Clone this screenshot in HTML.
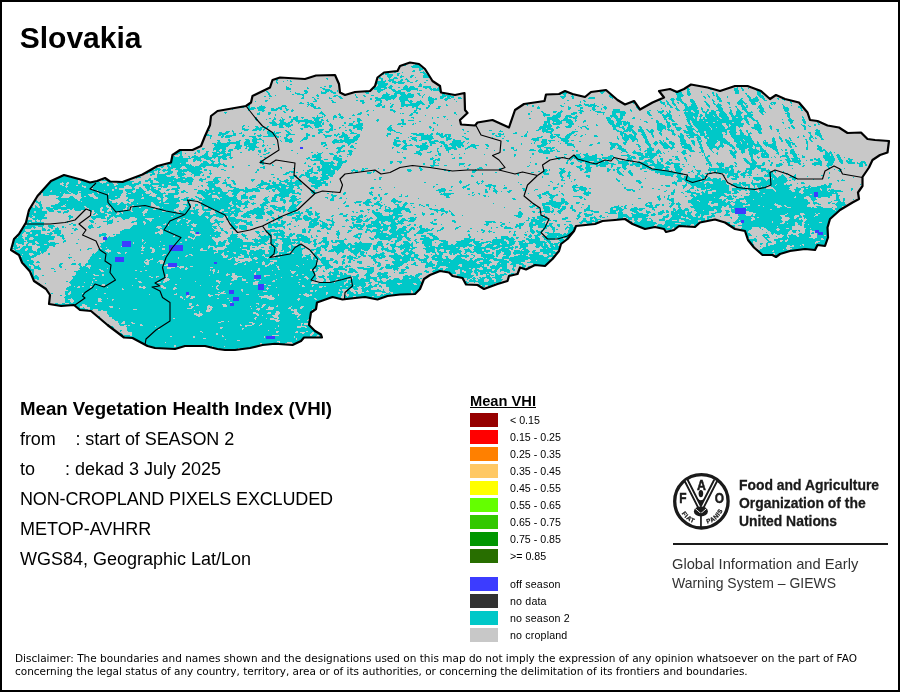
<!DOCTYPE html>
<html lang="en"><head><meta charset="utf-8"><title>Slovakia - Mean VHI</title>
<style>
html,body{margin:0;padding:0;background:#fff;}
body{width:900px;height:692px;position:relative;overflow:hidden;font-family:"Liberation Sans",Arial,sans-serif;color:#000;}
#frame{position:absolute;left:0;top:0;width:896px;height:688px;border:2px solid #000;box-sizing:content-box;}
#map{position:absolute;left:0;top:0;}
h1{position:absolute;left:19.75px;top:20.5px;margin:0;font-size:30px;line-height:34px;font-weight:bold;white-space:nowrap;}
.info{position:absolute;left:20px;font-size:18px;line-height:22px;white-space:pre;}
.lt{position:absolute;left:470px;top:392px;font-size:14.67px;line-height:18px;font-weight:bold;text-decoration:underline;white-space:nowrap;}
.sw{position:absolute;left:470px;width:28px;height:14px;}
.ll{position:absolute;left:510px;font-size:10.67px;line-height:14px;white-space:nowrap;}
.fao{position:absolute;left:739px;top:476px;font-size:15.5px;line-height:17.8px;font-weight:bold;white-space:nowrap;transform-origin:0 0;transform:scaleX(0.897);color:#1a1a1a;-webkit-text-stroke:0.3px #1a1a1a;}
.rule{position:absolute;left:672.5px;top:543.1px;width:215.5px;height:2.3px;background:#1a1a1a;}
.giews{position:absolute;left:672px;top:555.2px;font-size:14.6px;line-height:18px;white-space:nowrap;color:#333;transform-origin:0 0;transform:scaleX(1.007);}
.disc{position:absolute;left:15px;top:652px;font-size:10.5px;line-height:13px;white-space:nowrap;color:#000;font-family:"DejaVu Sans","Liberation Sans",sans-serif;}
</style></head><body>
<svg id="map" width="900" height="692" viewBox="0 0 900 692" shape-rendering="crispEdges">
<defs><clipPath id="cc"><polygon points="180,150 172.5,155 171,162.5 157.5,166 142.5,174.5 122.5,182 110,181.5 105,178 97,181 90,182.5 82.5,180 64,175 51,181 37.5,196 29,210 26,222.5 19,234 14,239 11,250 19,255 22,262.5 30,271.5 34,281 46,289 50,295 49,304 61,306 74,305 80,310 91,311 107.5,325 124,337.5 132.5,338 147.5,346 155,348 175,349 185,346 205,346 217.5,349 225,350 235,350 250,348 262.5,345 275,343.75 292.5,345 301,341 304,337.5 322,337.5 321,334.5 315,331 309,325 311,312.5 316,309 317,302.5 324,300 332.5,297 342.5,299.5 355,298 365,297 377.5,299.5 387.5,296 400,294.5 415,294 420,289 424,279 430,275 440,271 449,272.5 452.5,276 462.5,278 466,284.5 477.5,285 484,289 497.5,284 507.5,281 509,276 517.5,274 520,267.5 526,269.5 535,265 545,266 552.5,259 559,251 561,244 567.5,239 574,231 576,226 595,224 602.5,221 615,220 625,219 632.5,224 645,229 655,227 664,229 666,232 674,230 679,226 695,227 700,222.5 715,219.5 725,222.5 735,229 745,231 748,240 754,247.5 762.5,255 772.5,255 776,257 780,254 790,251 805,249 815,250 817.5,245 825,246 828,237.5 827.5,227.5 830,219 840,210 852.5,202.5 859,199 858,192.5 862.5,186 862.5,177 869,167.5 872.5,160 880,155 887.5,152.5 889,141 875,140 867.5,139 861,132.5 847.5,133 839,127.5 827.5,125.5 817.5,121 810,120 807.5,112.5 799,102.5 785,99 776,95 770,99 761,91 747.5,86 735,86 720,91 707.5,87.5 691,84.5 684,89 677,92 670,89 659,91 664,97.5 652.5,102.5 640,109.5 634,101 625,104.5 617.5,100 606,90 591,92 585,97 572.5,94 565,91 559,94 546,94.5 544.5,101 524,104 515,110 509,127.5 492.5,120 477.5,122.5 475,125.5 461,124.5 460,120 467.5,113 465,110 464.5,93 455,95 441,92.5 440,86 432.5,81 425,69 419,64 410,62.5 400,66 397.5,71 384,72.5 377.5,77.5 375,86 370,91 355,92 345,95 340,92.5 339,84 335,75 316,75.5 305,79 280,77.5 272.5,80 270,87.5 252.5,96 251,102.5 246,106 217.5,111 211,116 210,125 205,136 201,146 192.5,150"/></clipPath></defs>
<polygon points="180,150 172.5,155 171,162.5 157.5,166 142.5,174.5 122.5,182 110,181.5 105,178 97,181 90,182.5 82.5,180 64,175 51,181 37.5,196 29,210 26,222.5 19,234 14,239 11,250 19,255 22,262.5 30,271.5 34,281 46,289 50,295 49,304 61,306 74,305 80,310 91,311 107.5,325 124,337.5 132.5,338 147.5,346 155,348 175,349 185,346 205,346 217.5,349 225,350 235,350 250,348 262.5,345 275,343.75 292.5,345 301,341 304,337.5 322,337.5 321,334.5 315,331 309,325 311,312.5 316,309 317,302.5 324,300 332.5,297 342.5,299.5 355,298 365,297 377.5,299.5 387.5,296 400,294.5 415,294 420,289 424,279 430,275 440,271 449,272.5 452.5,276 462.5,278 466,284.5 477.5,285 484,289 497.5,284 507.5,281 509,276 517.5,274 520,267.5 526,269.5 535,265 545,266 552.5,259 559,251 561,244 567.5,239 574,231 576,226 595,224 602.5,221 615,220 625,219 632.5,224 645,229 655,227 664,229 666,232 674,230 679,226 695,227 700,222.5 715,219.5 725,222.5 735,229 745,231 748,240 754,247.5 762.5,255 772.5,255 776,257 780,254 790,251 805,249 815,250 817.5,245 825,246 828,237.5 827.5,227.5 830,219 840,210 852.5,202.5 859,199 858,192.5 862.5,186 862.5,177 869,167.5 872.5,160 880,155 887.5,152.5 889,141 875,140 867.5,139 861,132.5 847.5,133 839,127.5 827.5,125.5 817.5,121 810,120 807.5,112.5 799,102.5 785,99 776,95 770,99 761,91 747.5,86 735,86 720,91 707.5,87.5 691,84.5 684,89 677,92 670,89 659,91 664,97.5 652.5,102.5 640,109.5 634,101 625,104.5 617.5,100 606,90 591,92 585,97 572.5,94 565,91 559,94 546,94.5 544.5,101 524,104 515,110 509,127.5 492.5,120 477.5,122.5 475,125.5 461,124.5 460,120 467.5,113 465,110 464.5,93 455,95 441,92.5 440,86 432.5,81 425,69 419,64 410,62.5 400,66 397.5,71 384,72.5 377.5,77.5 375,86 370,91 355,92 345,95 340,92.5 339,84 335,75 316,75.5 305,79 280,77.5 272.5,80 270,87.5 252.5,96 251,102.5 246,106 217.5,111 211,116 210,125 205,136 201,146 192.5,150" fill="#c8c8c8"/>
<g clip-path="url(#cc)">
<path fill="none" stroke="#00c8c8" stroke-width="1" d="M405 63.5h1M403 64.5h3m9 0h6M403 65.5h3m7 0h6M411 66.5h9M412 67.5h9M419 68.5h4M419 69.5h4M413 70.5h2m4 0h2M384 71.5h4m6 0h3m15 0h3m8 0h1M385 72.5h3m6 0h2m6 0h1m17 0h5M385 73.5h4m8 0h3m23 0h3M380 74.5h1m1 0h2m1 0h8m4 0h2m25 0h3m1 0h2M387 75.5h6m4 0h2m2 0h1m9 0h3m9 0h7M387 76.5h5m8 0h4m6 0h3m10 0h8M309 77.5h1m69 0h2m7 0h3m3 0h3m3 0h2m8 0h2m3 0h1m7 0h7m1 0h1M308 78.5h1m17 0h2m51 0h4m6 0h1m3 0h5m8 0h1M276 79.5h2m49 0h1m53 0h2m6 0h5m7 0h2m2 0h3M276 80.5h2m9 0h1m2 0h1m90 0h2m2 0h1m2 0h6m6 0h3m4 0h2m7 0h2m8 0h2M276 81.5h1m6 0h1m6 0h2m47 0h1m35 0h11m3 0h2m1 0h4m2 0h4m5 0h3m5 0h2M276 82.5h2m97 0h10m7 0h13m5 0h3m11 0h2M277 83.5h1m97 0h13m6 0h2m2 0h6m16 0h1m16 0h1M290 84.5h2m82 0h3m1 0h10m31 0h3M329 85.5h3m42 0h1m3 0h9m3 0h2m13 0h2m12 0h3M286 86.5h1m37 0h2m3 0h3m45 0h9m3 0h4m11 0h4m2 0h4m4 0h4m1 0h8m275 0h2m24 0h2M268 87.5h1m17 0h3m18 0h1m12 0h2m7 0h2m42 0h14m1 0h4m6 0h2m3 0h5m1 0h6m8 0h8m7 0h1m268 0h4m26 0h1m3 0h1M286 88.5h5m16 0h2m13 0h3m47 0h9m3 0h3m2 0h3m11 0h15m7 0h2m2 0h3m1 0h3m1 0h3m247 0h2m19 0h4m22 0h4m3 0h2m5 0h1m6 0h1M286 89.5h5m32 0h7m44 0h11m6 0h4m6 0h17m12 0h10m247 0h3m20 0h2m22 0h4m4 0h2m11 0h4M304 90.5h3m18 0h7m5 0h1m39 0h6m9 0h4m2 0h3m5 0h5m6 0h1m1 0h3m9 0h1m1 0h7m159 0h1m2 0h2m68 0h4m4 0h1m6 0h2m45 0h5m3 0h2m12 0h4M266 91.5h2m22 0h1m13 0h4m13 0h1m3 0h4m1 0h3m4 0h1m39 0h4m12 0h8m6 0h3m29 0h3m124 0h1m32 0h6m68 0h8m6 0h3m11 0h1m33 0h4m18 0h3M267 92.5h2m26 0h1m9 0h3m13 0h6m4 0h5m29 0h4m9 0h2m6 0h1m8 0h10m36 0h3m117 0h7m32 0h4m71 0h7m5 0h3m11 0h1m10 0h2m21 0h4m18 0h4M268 93.5h2m25 0h5m4 0h3m14 0h5m7 0h3m30 0h3m17 0h2m6 0h11m3 0h3m6 0h3m22 0h3m20 0h1m80 0h9m4 0h2m1 0h5m34 0h2m73 0h6m5 0h4m21 0h2m2 0h1m18 0h4m6 0h2m10 0h4M268 94.5h2m22 0h2m3 0h7m13 0h1m37 0h1m27 0h7m4 0h3m3 0h6m1 0h7m4 0h2m4 0h1m17 0h3m3 0h2m99 0h3m7 0h2m2 0h3m10 0h1m99 0h7m4 0h4m16 0h1m5 0h1m2 0h2m28 0h1m10 0h4M269 95.5h2m4 0h1m26 0h2m12 0h3m15 0h4m17 0h1m7 0h2m6 0h3m8 0h7m2 0h6m4 0h13m5 0h2m2 0h1m18 0h9m113 0h2m6 0h1m36 0h3m65 0h7m4 0h2m18 0h1m4 0h2m1 0h2m29 0h2m9 0h5M264 96.5h2m3 0h3m31 0h1m13 0h2m14 0h3m2 0h3m15 0h1m7 0h2m16 0h15m3 0h14m8 0h1m6 0h1m10 0h6m1 0h7m106 0h6m5 0h3m35 0h3m65 0h6m20 0h2m3 0h2m6 0h3m8 0h1m19 0h3m6 0h1m2 0h5M302 97.5h2m8 0h2m15 0h1m9 0h3m14 0h2m17 0h3m3 0h15m3 0h14m9 0h1m5 0h4m8 0h4m3 0h3m1 0h3m4 0h3m83 0h2m15 0h4m7 0h2m15 0h6m15 0h3m64 0h4m23 0h2m3 0h1m7 0h3m7 0h1m20 0h3m4 0h3m2 0h4m17 0h1M269 98.5h1m31 0h3m10 0h1m2 0h2m10 0h3m8 0h3m27 0h2m3 0h20m4 0h9m20 0h6m1 0h2m3 0h3m2 0h6m7 0h4m100 0h2m8 0h2m14 0h7m17 0h1m46 0h1m11 0h3m2 0h5m24 0h1m11 0h4m20 0h2m6 0h2m2 0h5m4 0h3m12 0h2m3 0h1M314 99.5h2m54 0h2m4 0h5m4 0h6m2 0h1m5 0h9m20 0h9m7 0h4m6 0h1m203 0h3m9 0h5m1 0h6m8 0h3m19 0h1m4 0h4m19 0h2m7 0h10m4 0h2m13 0h1m3 0h2M265 100.5h3m47 0h2m14 0h2m23 0h2m2 0h4m11 0h7m4 0h2m12 0h9m1 0h2m8 0h1m7 0h6m11 0h2m120 0h2m14 0h2m74 0h2m5 0h1m4 0h3m3 0h5m8 0h4m18 0h2m5 0h3m17 0h4m6 0h10m5 0h3m17 0h1M255 101.5h1m9 0h2m46 0h4m15 0h2m26 0h4m11 0h1m4 0h2m18 0h5m3 0h5m4 0h5m7 0h5m22 0h1m123 0h1m3 0h2m45 0h3m26 0h2m4 0h2m4 0h2m6 0h3m7 0h5m9 0h2m7 0h2m4 0h3m16 0h6m6 0h8m32 0h1M300 102.5h2m5 0h2m23 0h4m26 0h3m15 0h2m19 0h4m4 0h3m4 0h7m6 0h5m146 0h1m51 0h2m26 0h5m2 0h2m3 0h2m3 0h2m2 0h3m7 0h4m10 0h2m6 0h1m13 0h3m7 0h8m6 0h4m4 0h1m11 0h5m14 0h2m7 0h1M299 103.5h5m4 0h1m1 0h3m49 0h2m14 0h3m9 0h1m10 0h4m5 0h14m5 0h4m93 0h3m35 0h1m19 0h1m9 0h1m38 0h1m15 0h1m11 0h4m2 0h2m3 0h3m3 0h1m3 0h4m6 0h4m10 0h2m5 0h2m3 0h1m9 0h2m7 0h6m1 0h3m4 0h5m4 0h1m9 0h2m1 0h3m15 0h1m7 0h1M247 104.5h3m57 0h3m1 0h3m63 0h5m10 0h2m7 0h19m2 0h3m5 0h1m15 0h1m79 0h2m51 0h2m3 0h5m1 0h5m7 0h1m60 0h2m2 0h3m3 0h3m8 0h3m4 0h5m10 0h3m5 0h2m1 0h4m8 0h1m8 0h5m2 0h1m6 0h4m4 0h1m10 0h2m1 0h1m7 0h1m16 0h4M246 105.5h4m11 0h1m20 0h4m22 0h1m1 0h4m61 0h7m2 0h1m6 0h2m8 0h18m9 0h2m16 0h2m79 0h1m4 0h2m26 0h2m13 0h7m3 0h12m39 0h1m28 0h1m3 0h2m3 0h2m8 0h3m4 0h6m10 0h3m6 0h6m19 0h3m2 0h2m11 0h3m7 0h1m13 0h1m7 0h1m8 0h1m1 0h1M248 106.5h2m9 0h6m16 0h6m20 0h1m3 0h5m60 0h4m2 0h3m5 0h3m8 0h3m2 0h2m4 0h6m10 0h2m8 0h3m91 0h2m4 0h1m22 0h3m4 0h1m8 0h3m8 0h4m1 0h3m1 0h2m5 0h2m30 0h2m27 0h1m4 0h2m4 0h1m8 0h3m1 0h8m11 0h2m6 0h5m14 0h2m4 0h4m1 0h2m10 0h4m7 0h1m13 0h2m13 0h4M241 107.5h3m3 0h3m1 0h4m2 0h9m12 0h4m3 0h1m27 0h3m2 0h2m62 0h3m5 0h2m20 0h2m2 0h2m8 0h3m9 0h2m97 0h3m28 0h3m9 0h3m9 0h3m8 0h4m29 0h2m32 0h3m3 0h1m8 0h13m3 0h1m7 0h1m7 0h5m7 0h2m5 0h1m5 0h6m10 0h5m6 0h2m12 0h5m10 0h5M248 108.5h8m1 0h8m6 0h3m2 0h6m3 0h2m27 0h7m79 0h2m14 0h5m5 0h2m8 0h4m97 0h3m28 0h3m9 0h3m9 0h3m6 0h1m2 0h3m30 0h2m22 0h1m13 0h3m7 0h13m3 0h2m15 0h5m14 0h1m4 0h4m11 0h1m1 0h5m6 0h2m11 0h6m11 0h2M232 109.5h1m15 0h6m4 0h6m7 0h7m2 0h2m4 0h3m3 0h1m97 0h3m23 0h1m2 0h2m147 0h2m10 0h1m11 0h4m5 0h1m3 0h1m7 0h7m10 0h1m7 0h1m37 0h3m5 0h13m4 0h2m4 0h2m9 0h5m7 0h1m6 0h2m3 0h5m13 0h4m20 0h5m12 0h1M248 110.5h2m8 0h7m6 0h6m9 0h2m3 0h3m73 0h2m4 0h1m16 0h5m19 0h3m144 0h1m16 0h5m7 0h1m2 0h2m18 0h7m10 0h2m17 0h2m6 0h1m4 0h2m5 0h1m7 0h3m3 0h8m2 0h6m3 0h1m4 0h2m2 0h3m2 0h7m7 0h2m5 0h3m4 0h3m12 0h5m20 0h5m12 0h2M262 111.5h2m19 0h2m6 0h2m28 0h1m44 0h2m25 0h3m18 0h2m115 0h1m9 0h2m10 0h4m3 0h3m17 0h4m11 0h6m11 0h13m6 0h1m15 0h2m9 0h6m2 0h1m2 0h2m14 0h1m2 0h3m3 0h5m3 0h3m1 0h2m3 0h5m3 0h5m6 0h2m4 0h5m4 0h3m3 0h1m7 0h6m20 0h3M224 112.5h3m32 0h1m8 0h3m13 0h2m34 0h3m37 0h2m32 0h1m18 0h5m36 0h2m86 0h2m9 0h3m2 0h4m11 0h4m2 0h3m15 0h8m7 0h14m21 0h3m8 0h5m4 0h1m1 0h2m13 0h9m2 0h4m4 0h4m2 0h7m4 0h5m4 0h3m4 0h7m3 0h7m7 0h3m2 0h1m21 0h2M225 113.5h1m31 0h3m8 0h3m48 0h5m15 0h1m18 0h4m38 0h1m1 0h2m7 0h2m3 0h2m36 0h2m72 0h2m13 0h3m11 0h4m10 0h6m3 0h2m21 0h1m8 0h4m4 0h6m21 0h3m10 0h2m5 0h3m14 0h15m6 0h2m2 0h7m3 0h7m3 0h4m3 0h6m5 0h4m10 0h2m22 0h5M257 114.5h3m8 0h2m5 0h1m46 0h3m13 0h3m12 0h1m3 0h4m6 0h2m41 0h3m43 0h1m71 0h2m13 0h7m6 0h5m10 0h4m22 0h1m5 0h1m8 0h4m4 0h5m23 0h3m11 0h2m2 0h5m14 0h13m2 0h2m3 0h12m2 0h8m3 0h3m3 0h5m6 0h6m9 0h2m23 0h3M275 115.5h1m41 0h1m6 0h2m8 0h2m3 0h2m11 0h3m13 0h1m40 0h3m13 0h1m117 0h7m3 0h8m5 0h5m5 0h1m33 0h7m3 0h5m24 0h3m10 0h10m7 0h1m5 0h13m2 0h3m2 0h8m1 0h3m2 0h8m4 0h3m1 0h6m3 0h9m34 0h3M289 116.5h2m5 0h2m19 0h1m4 0h1m1 0h1m8 0h4m3 0h3m100 0h3m98 0h1m7 0h9m4 0h7m3 0h3m32 0h8m2 0h3m40 0h9m14 0h7m1 0h4m1 0h3m3 0h9m1 0h3m1 0h9m3 0h11m2 0h8m35 0h3m12 0h1M255 117.5h2m17 0h1m6 0h1m7 0h2m2 0h5m3 0h3m8 0h3m1 0h7m10 0h4m2 0h5m67 0h3m18 0h1m4 0h2m5 0h1m102 0h13m5 0h3m1 0h8m29 0h4m1 0h1m2 0h4m2 0h3m10 0h2m28 0h4m2 0h3m14 0h7m2 0h2m3 0h1m2 0h2m1 0h13m2 0h8m3 0h4m2 0h4m2 0h3m2 0h4m35 0h2m12 0h2M256 118.5h1m12 0h2m3 0h2m6 0h1m10 0h5m4 0h1m10 0h7m13 0h1m7 0h2m6 0h2m6 0h3m53 0h1m18 0h1m96 0h2m16 0h11m6 0h4m5 0h4m29 0h5m4 0h8m9 0h3m16 0h2m11 0h2m2 0h4m15 0h7m1 0h2m3 0h1m2 0h2m2 0h13m2 0h7m3 0h15m4 0h3m35 0h2m12 0h1M255 119.5h3m8 0h1m6 0h3m4 0h1m1 0h3m6 0h7m6 0h4m6 0h5m2 0h2m4 0h1m5 0h1m23 0h4m16 0h2m22 0h3m43 0h1m99 0h12m4 0h8m4 0h1m31 0h4m5 0h6m18 0h1m23 0h3m2 0h4m13 0h11m2 0h30m3 0h11m1 0h4m4 0h3m27 0h1m5 0h4m10 0h3M256 120.5h1m15 0h2m5 0h5m7 0h2m2 0h17m2 0h5m2 0h3m2 0h2m29 0h5m14 0h3m22 0h3m4 0h6m133 0h3m2 0h8m1 0h11m3 0h2m7 0h2m21 0h6m3 0h5m35 0h2m8 0h1m4 0h3m13 0h3m1 0h6m2 0h4m1 0h13m1 0h24m3 0h3m5 0h5m30 0h6m8 0h3M272 121.5h3m5 0h4m6 0h3m3 0h18m1 0h7m5 0h2m24 0h2m2 0h3m17 0h1m24 0h2m15 0h2m123 0h6m3 0h9m4 0h7m2 0h1m7 0h3m22 0h6m3 0h9m1 0h1m16 0h3m9 0h3m7 0h2m4 0h3m12 0h3m2 0h49m5 0h3m7 0h2m31 0h4m10 0h3m11 0h1M269 122.5h7m4 0h6m2 0h4m6 0h2m5 0h17m1 0h1m20 0h2m7 0h1m4 0h2m42 0h2m29 0h2m109 0h6m3 0h1m2 0h6m4 0h7m10 0h1m24 0h6m3 0h5m1 0h7m16 0h2m8 0h3m7 0h4m18 0h2m2 0h14m2 0h5m2 0h17m2 0h7m5 0h3m8 0h2m23 0h2m6 0h3m10 0h3m11 0h1M270 123.5h7m2 0h11m8 0h1m6 0h3m2 0h11m1 0h2m6 0h1m13 0h2m3 0h4m5 0h5m35 0h8m7 0h1m1 0h1m17 0h3m108 0h3m1 0h2m2 0h10m6 0h6m35 0h5m2 0h6m1 0h7m27 0h5m5 0h3m2 0h5m11 0h3m2 0h29m4 0h18m3 0h2m8 0h2m24 0h1m6 0h2m12 0h2m12 0h1M272 124.5h18m1 0h2m9 0h5m7 0h7m1 0h2m5 0h3m17 0h4m3 0h7m34 0h4m1 0h4m6 0h2m23 0h1m105 0h4m1 0h3m2 0h7m9 0h5m22 0h1m13 0h5m1 0h6m1 0h4m1 0h2m27 0h6m4 0h3m2 0h6m11 0h2m2 0h29m4 0h3m1 0h14m4 0h2m4 0h6m41 0h1m12 0h2m2 0h2M243 125.5h2m27 0h5m2 0h4m2 0h8m8 0h9m4 0h8m7 0h4m9 0h2m4 0h15m27 0h2m45 0h1m13 0h1m91 0h9m16 0h4m15 0h1m8 0h2m14 0h8m4 0h2m2 0h5m24 0h8m2 0h4m2 0h3m9 0h2m3 0h2m2 0h29m4 0h2m2 0h12m11 0h7m9 0h1m20 0h2m9 0h3m3 0h1m5 0h2M242 126.5h2m4 0h1m6 0h3m9 0h2m10 0h4m3 0h5m13 0h7m4 0h7m8 0h3m20 0h9m27 0h2m10 0h2m26 0h2m109 0h12m5 0h2m6 0h7m6 0h1m3 0h4m26 0h8m2 0h2m4 0h6m5 0h2m16 0h9m1 0h4m4 0h1m10 0h7m2 0h14m1 0h14m4 0h1m1 0h6m2 0h5m11 0h7m8 0h3m19 0h3m9 0h3m3 0h2M242 127.5h1m13 0h3m1 0h4m2 0h2m11 0h5m4 0h1m15 0h4m2 0h2m3 0h4m12 0h2m6 0h2m4 0h1m7 0h10m25 0h4m37 0h3m107 0h12m5 0h4m6 0h5m9 0h2m3 0h2m26 0h3m3 0h5m3 0h6m6 0h3m15 0h9m1 0h3m5 0h6m5 0h6m4 0h14m1 0h5m1 0h8m3 0h8m3 0h1m11 0h10m9 0h2m16 0h2m2 0h3m9 0h2M242 128.5h3m10 0h7m2 0h4m32 0h3m9 0h1m17 0h3m6 0h1m13 0h2m2 0h6m24 0h5m38 0h1m2 0h1m105 0h7m1 0h6m3 0h2m23 0h1m4 0h3m24 0h3m6 0h3m2 0h5m8 0h2m15 0h9m2 0h1m7 0h6m5 0h7m3 0h14m1 0h13m2 0h9m16 0h10m8 0h2m13 0h1m3 0h1m3 0h2m9 0h2M207 129.5h2m33 0h7m4 0h9m1 0h2m25 0h1m10 0h2m15 0h6m5 0h4m1 0h2m13 0h2m6 0h5m25 0h6m40 0h1m28 0h2m74 0h3m1 0h12m21 0h1m11 0h2m24 0h4m6 0h2m1 0h7m5 0h5m3 0h2m3 0h2m4 0h6m2 0h1m1 0h3m1 0h1m4 0h5m6 0h8m3 0h13m1 0h24m4 0h1m14 0h7m9 0h1m4 0h3m25 0h2m10 0h2M208 130.5h2m22 0h1m11 0h4m4 0h5m2 0h2m2 0h1m4 0h2m15 0h2m4 0h1m26 0h5m6 0h4m12 0h2m2 0h3m9 0h1m26 0h7m37 0h2m29 0h1m25 0h3m8 0h1m35 0h3m3 0h6m3 0h3m62 0h3m5 0h10m4 0h6m3 0h2m1 0h4m4 0h4m6 0h6m3 0h3m3 0h3m2 0h5m2 0h1m2 0h29m3 0h6m3 0h3m4 0h2m9 0h4m16 0h2m36 0h5M226 131.5h4m2 0h2m33 0h4m3 0h1m11 0h3m30 0h3m3 0h5m20 0h2m38 0h1m3 0h2m71 0h2m30 0h4m24 0h1m14 0h11m19 0h6m39 0h5m1 0h5m1 0h2m1 0h3m3 0h6m4 0h6m6 0h2m9 0h3m10 0h9m3 0h8m2 0h21m2 0h7m4 0h2m4 0h2m10 0h3m16 0h2m37 0h4M219 132.5h3m3 0h4m4 0h1m7 0h1m25 0h5m1 0h2m1 0h5m6 0h3m28 0h5m3 0h3m13 0h2m7 0h3m42 0h4m37 0h1m77 0h2m10 0h1m15 0h1m2 0h6m19 0h4m45 0h4m8 0h4m5 0h4m4 0h4m6 0h2m11 0h2m10 0h10m3 0h1m1 0h5m2 0h16m3 0h2m2 0h8m3 0h3m4 0h1m2 0h1m7 0h4m46 0h3m4 0h5M219 133.5h9m5 0h3m3 0h3m12 0h2m11 0h12m9 0h3m15 0h2m10 0h2m18 0h1m3 0h3m5 0h7m30 0h4m9 0h2m9 0h6m2 0h5m7 0h2m3 0h4m1 0h2m21 0h2m26 0h3m3 0h3m2 0h1m9 0h4m9 0h1m23 0h2m17 0h5m46 0h6m7 0h4m5 0h3m6 0h2m6 0h3m10 0h3m5 0h2m4 0h9m5 0h5m1 0h16m4 0h1m3 0h6m4 0h4m4 0h4m7 0h3m17 0h1m29 0h2m4 0h6M205 134.5h4m9 0h8m7 0h3m7 0h1m10 0h1m5 0h1m7 0h8m10 0h9m11 0h4m13 0h2m9 0h2m1 0h3m2 0h5m10 0h3m27 0h4m22 0h11m3 0h1m2 0h3m3 0h7m2 0h6m41 0h2m4 0h6m21 0h2m24 0h2m1 0h6m7 0h5m4 0h1m8 0h1m34 0h3m1 0h3m2 0h3m2 0h3m4 0h5m5 0h2m7 0h2m10 0h4m4 0h3m6 0h9m2 0h5m2 0h16m2 0h2m3 0h6m4 0h4m4 0h2m60 0h1m4 0h6M205 135.5h7m6 0h3m1 0h2m2 0h10m6 0h3m12 0h5m6 0h9m9 0h3m17 0h4m2 0h3m9 0h8m2 0h4m3 0h7m8 0h4m26 0h2m28 0h16m7 0h4m1 0h3m1 0h3m44 0h2m2 0h2m23 0h3m23 0h3m3 0h4m6 0h5m3 0h2m5 0h2m11 0h3m24 0h2m1 0h9m1 0h2m6 0h4m6 0h2m7 0h1m12 0h1m3 0h1m1 0h4m2 0h13m1 0h5m1 0h17m8 0h15m2 0h2m53 0h1m6 0h2m5 0h5M210 136.5h2m9 0h3m1 0h7m10 0h2m5 0h7m2 0h3m2 0h11m1 0h4m1 0h1m5 0h2m18 0h2m4 0h3m10 0h6m5 0h1m2 0h9m6 0h6m27 0h1m22 0h2m9 0h12m7 0h7m1 0h3m11 0h2m32 0h5m3 0h1m16 0h2m1 0h3m14 0h2m7 0h6m1 0h2m6 0h5m10 0h2m12 0h4m19 0h1m4 0h1m1 0h12m7 0h4m5 0h2m24 0h6m3 0h1m2 0h4m3 0h3m4 0h19m8 0h20m28 0h1m18 0h1m4 0h2m5 0h3m6 0h3M210 137.5h1m10 0h2m2 0h5m22 0h4m21 0h2m5 0h3m17 0h4m17 0h2m12 0h4m1 0h6m3 0h6m37 0h3m9 0h1m3 0h5m4 0h12m8 0h3m2 0h4m14 0h2m26 0h1m44 0h5m8 0h5m3 0h3m4 0h5m47 0h1m4 0h14m7 0h4m6 0h1m12 0h1m12 0h5m4 0h6m2 0h5m3 0h3m2 0h14m9 0h19m22 0h1m5 0h2m8 0h1m7 0h2m10 0h4m2 0h1m4 0h2M210 138.5h1m42 0h4m2 0h2m23 0h4m2 0h2m11 0h5m36 0h5m4 0h5m38 0h3m12 0h5m5 0h13m12 0h6m13 0h4m33 0h2m28 0h7m12 0h2m7 0h9m48 0h2m3 0h7m1 0h7m7 0h3m19 0h2m12 0h4m5 0h1m7 0h4m4 0h3m1 0h16m8 0h19m20 0h3m4 0h3m7 0h2m18 0h2m2 0h1m1 0h2m4 0h2M228 139.5h2m15 0h4m3 0h10m23 0h7m10 0h5m27 0h3m3 0h2m2 0h14m36 0h2m16 0h5m4 0h11m14 0h5m2 0h2m11 0h3m62 0h8m3 0h5m14 0h7m50 0h1m4 0h6m2 0h7m7 0h3m18 0h3m11 0h5m12 0h4m6 0h19m8 0h9m1 0h8m20 0h3m5 0h2m3 0h2m3 0h1m14 0h2m2 0h2m10 0h3M217 140.5h3m8 0h3m8 0h2m5 0h4m2 0h5m5 0h2m16 0h1m4 0h8m8 0h2m30 0h24m37 0h6m3 0h3m3 0h2m3 0h3m2 0h3m6 0h3m3 0h4m8 0h2m5 0h8m45 0h3m24 0h6m3 0h5m1 0h7m6 0h8m2 0h3m50 0h4m4 0h3m2 0h1m7 0h3m11 0h2m2 0h1m16 0h6m5 0h3m3 0h2m2 0h1m5 0h10m1 0h9m7 0h10m1 0h8m11 0h2m6 0h3m6 0h2m2 0h4m1 0h2m14 0h1m3 0h2M218 141.5h2m9 0h1m6 0h4m5 0h5m2 0h5m6 0h1m17 0h1m3 0h8m7 0h1m31 0h7m1 0h15m39 0h7m1 0h4m10 0h1m12 0h10m1 0h4m8 0h9m2 0h2m42 0h2m26 0h1m5 0h6m2 0h2m7 0h1m4 0h6m10 0h2m44 0h2m5 0h2m3 0h1m7 0h4m6 0h2m3 0h2m1 0h1m5 0h3m8 0h6m5 0h4m3 0h4m5 0h11m2 0h8m6 0h6m1 0h13m3 0h1m5 0h1m1 0h1m6 0h4m5 0h2m3 0h4m16 0h2m3 0h2m74 0h1M217 142.5h4m6 0h13m4 0h6m3 0h6m4 0h1m25 0h3m29 0h5m6 0h11m2 0h9m39 0h4m6 0h3m19 0h2m2 0h6m4 0h6m7 0h12m4 0h1m65 0h1m6 0h6m3 0h1m14 0h3m30 0h2m9 0h3m11 0h4m18 0h4m5 0h4m1 0h4m1 0h2m3 0h5m7 0h5m6 0h3m3 0h3m5 0h11m3 0h10m6 0h5m1 0h12m3 0h2m4 0h5m5 0h3m10 0h7m13 0h2M212 143.5h4m1 0h23m4 0h13m64 0h5m7 0h2m12 0h4m4 0h2m36 0h4m7 0h3m15 0h5m3 0h6m5 0h4m5 0h13m4 0h1m53 0h1m9 0h1m2 0h1m7 0h6m1 0h1m10 0h1m4 0h7m25 0h3m10 0h8m5 0h3m20 0h4m3 0h5m2 0h7m2 0h6m5 0h7m5 0h3m4 0h2m5 0h10m4 0h3m1 0h6m7 0h4m1 0h5m1 0h7m2 0h2m4 0h5m4 0h4m11 0h4m1 0h3m11 0h2M214 144.5h16m6 0h4m4 0h12m7 0h1m9 0h2m46 0h2m2 0h2m21 0h2m43 0h8m4 0h2m3 0h2m10 0h4m4 0h2m11 0h4m2 0h14m8 0h4m10 0h3m33 0h1m19 0h6m20 0h7m16 0h3m17 0h9m5 0h2m10 0h3m8 0h4m3 0h3m4 0h7m3 0h4m6 0h9m3 0h2m4 0h3m5 0h8m5 0h3m4 0h5m4 0h11m1 0h12m4 0h12m12 0h3m1 0h3m12 0h1M214 145.5h15m7 0h6m2 0h3m1 0h8m6 0h3m2 0h1m56 0h3m15 0h3m3 0h1m2 0h2m41 0h6m4 0h9m2 0h4m1 0h8m2 0h2m9 0h1m2 0h4m3 0h13m6 0h9m7 0h3m48 0h9m21 0h7m15 0h3m19 0h5m1 0h4m17 0h2m8 0h3m4 0h1m6 0h7m3 0h2m7 0h1m2 0h7m3 0h1m5 0h2m5 0h8m4 0h5m5 0h4m3 0h17m1 0h7m4 0h11m12 0h3m4 0h1m11 0h1m9 0h2M215 146.5h13m7 0h7m4 0h11m5 0h2m59 0h2m16 0h4m5 0h4m42 0h3m4 0h4m9 0h13m11 0h2m2 0h4m4 0h4m1 0h4m1 0h2m4 0h8m11 0h2m48 0h7m29 0h2m36 0h4m3 0h4m16 0h3m8 0h2m12 0h7m2 0h2m8 0h9m9 0h2m6 0h9m1 0h6m6 0h4m2 0h17m2 0h7m4 0h1m1 0h9m12 0h3m3 0h2m10 0h1m9 0h4M214 147.5h12m9 0h6m5 0h1m2 0h10m78 0h6m7 0h4m38 0h2m8 0h4m11 0h11m17 0h11m2 0h3m6 0h3m3 0h3m35 0h3m24 0h3m3 0h7m1 0h3m19 0h1m35 0h5m3 0h4m17 0h1m9 0h3m11 0h12m7 0h10m7 0h4m6 0h11m2 0h1m9 0h3m2 0h15m3 0h1m4 0h2m8 0h7m13 0h2m14 0h2m10 0h4M202 148.5h3m8 0h13m8 0h7m4 0h2m2 0h6m10 0h1m3 0h2m55 0h2m8 0h6m12 0h2m36 0h1m8 0h6m13 0h8m9 0h2m6 0h12m8 0h3m7 0h2m9 0h2m23 0h3m26 0h1m5 0h8m56 0h3m4 0h7m16 0h1m6 0h7m10 0h4m2 0h3m11 0h8m8 0h3m6 0h4m3 0h3m13 0h3m4 0h8m2 0h4m2 0h1m4 0h3m9 0h5m29 0h2m9 0h5M181 149.5h5m4 0h4m8 0h2m9 0h7m2 0h4m3 0h4m4 0h2m9 0h7m9 0h2m72 0h3m62 0h4m13 0h7m10 0h1m8 0h5m3 0h3m8 0h1m37 0h2m8 0h1m2 0h1m13 0h4m5 0h3m4 0h2m2 0h2m4 0h1m53 0h2m7 0h7m13 0h2m6 0h7m4 0h1m12 0h1m16 0h4m9 0h2m7 0h2m5 0h2m15 0h1m4 0h6m3 0h9m3 0h4m9 0h5m3 0h1m3 0h2m4 0h3m12 0h2m9 0h5m1 0h2M178 150.5h6m13 0h3m13 0h1m2 0h3m3 0h3m3 0h5m15 0h2m2 0h2m4 0h3m3 0h3m24 0h2m45 0h3m2 0h2m3 0h4m67 0h4m14 0h1m8 0h3m45 0h1m8 0h2m9 0h3m12 0h7m2 0h5m1 0h5m1 0h5m2 0h1m14 0h2m2 0h2m43 0h5m8 0h1m5 0h1m4 0h9m3 0h3m23 0h3m3 0h5m7 0h3m7 0h1m17 0h3m3 0h1m5 0h4m3 0h11m1 0h6m9 0h3m4 0h1m2 0h2m3 0h4m25 0h7M177 151.5h5m15 0h3m6 0h3m7 0h4m1 0h5m2 0h3m27 0h3m3 0h2m71 0h8m3 0h5m44 0h1m18 0h4m10 0h2m5 0h2m9 0h1m89 0h15m4 0h3m16 0h2m44 0h5m6 0h3m8 0h2m1 0h5m4 0h5m7 0h1m8 0h1m4 0h4m4 0h5m6 0h3m8 0h1m17 0h3m1 0h3m4 0h4m4 0h17m10 0h2m12 0h5m25 0h3m2 0h2m3 0h1M175 152.5h7m13 0h1m2 0h2m6 0h2m4 0h5m2 0h6m5 0h1m9 0h2m17 0h2m7 0h2m41 0h2m4 0h1m4 0h1m13 0h4m9 0h3m45 0h3m2 0h1m13 0h5m6 0h4m7 0h1m9 0h1m90 0h11m71 0h1m4 0h2m4 0h9m6 0h5m4 0h5m2 0h1m17 0h5m13 0h2m1 0h2m9 0h1m3 0h1m12 0h7m4 0h4m4 0h10m3 0h1m1 0h3m10 0h2m6 0h3m2 0h5m30 0h3m1 0h3m2 0h1M174 153.5h8m3 0h1m8 0h2m9 0h3m5 0h13m1 0h4m35 0h3m28 0h1m20 0h4m7 0h4m4 0h1m11 0h3m62 0h8m16 0h3m23 0h1m33 0h1m33 0h2m9 0h7m30 0h1m5 0h2m45 0h10m2 0h14m1 0h2m2 0h1m17 0h5m17 0h1m11 0h2m12 0h6m6 0h1m6 0h9m3 0h7m8 0h3m6 0h3m2 0h6m29 0h7M174 154.5h4m2 0h2m22 0h4m5 0h7m3 0h8m27 0h1m4 0h3m48 0h2m1 0h4m9 0h4m13 0h5m66 0h4m16 0h3m10 0h2m6 0h1m24 0h1m29 0h2m16 0h2m30 0h3m9 0h4m3 0h5m7 0h2m4 0h2m24 0h2m8 0h6m2 0h12m26 0h2m19 0h1m12 0h1m13 0h4m14 0h4m1 0h2m5 0h8m9 0h1m6 0h2m5 0h5m1 0h1m26 0h5m1 0h2m4 0h2M171 155.5h2m7 0h2m12 0h2m6 0h6m4 0h6m4 0h9m81 0h9m13 0h3m2 0h2m9 0h1m69 0h1m14 0h2m2 0h2m73 0h2m59 0h5m4 0h5m3 0h5m5 0h1m7 0h3m8 0h10m7 0h6m1 0h12m2 0h1m29 0h2m11 0h1m1 0h1m3 0h2m22 0h4m14 0h3m8 0h4m1 0h3m13 0h6m5 0h4m5 0h1m20 0h7m1 0h2m3 0h4M171 156.5h4m4 0h4m5 0h2m2 0h6m2 0h9m3 0h15m3 0h1m29 0h2m50 0h9m13 0h3m2 0h3m5 0h1m166 0h1m40 0h2m7 0h1m7 0h9m4 0h12m11 0h6m13 0h3m1 0h4m6 0h7m1 0h6m4 0h2m11 0h2m1 0h3m12 0h1m14 0h1m1 0h3m23 0h3m14 0h3m4 0h1m3 0h8m5 0h1m5 0h9m4 0h4m5 0h3m18 0h11m3 0h3M171 157.5h12m6 0h1m1 0h25m2 0h8m3 0h4m31 0h2m42 0h2m2 0h10m11 0h6m64 0h3m26 0h1m21 0h1m4 0h3m68 0h1m15 0h2m8 0h4m4 0h2m6 0h9m3 0h13m5 0h10m1 0h2m13 0h8m3 0h15m21 0h3m6 0h2m19 0h3m25 0h3m15 0h2m4 0h3m2 0h7m2 0h1m3 0h1m4 0h1m5 0h3m5 0h4m4 0h3m18 0h11m3 0h4m3 0h1M171 158.5h20m3 0h7m3 0h8m2 0h1m3 0h3m1 0h5m3 0h2m74 0h4m6 0h5m12 0h9m62 0h2m24 0h4m4 0h2m12 0h3m4 0h3m84 0h2m10 0h3m10 0h2m1 0h27m1 0h10m3 0h2m10 0h5m1 0h3m3 0h5m6 0h3m7 0h3m13 0h3m5 0h2m19 0h3m27 0h1m7 0h3m5 0h2m5 0h1m28 0h3m1 0h9m14 0h2m2 0h2m4 0h11m3 0h3m7 0h2M171 159.5h17m5 0h8m5 0h5m7 0h2m3 0h4m80 0h1m2 0h2m2 0h7m3 0h4m5 0h9m88 0h3m2 0h5m118 0h2m9 0h3m4 0h21m2 0h3m6 0h3m5 0h2m9 0h5m7 0h4m5 0h4m5 0h1m2 0h3m6 0h3m3 0h4m6 0h2m19 0h3m35 0h3m4 0h3m31 0h5m2 0h6m1 0h1m10 0h3m1 0h6m5 0h10m3 0h4m6 0h5M170 160.5h18m5 0h3m1 0h5m8 0h3m5 0h2m40 0h3m48 0h12m13 0h6m3 0h2m86 0h3m1 0h3m127 0h2m1 0h1m6 0h20m2 0h4m14 0h2m3 0h1m3 0h7m12 0h8m4 0h1m3 0h2m6 0h3m6 0h2m6 0h1m19 0h3m35 0h4m3 0h4m13 0h2m10 0h2m4 0h5m1 0h9m5 0h1m3 0h3m3 0h5m4 0h10m4 0h4m3 0h2m1 0h3M170 161.5h18m5 0h2m5 0h1m2 0h4m4 0h4m3 0h2m40 0h4m56 0h4m7 0h2m5 0h9m43 0h3m4 0h5m31 0h2m132 0h1m10 0h6m1 0h4m5 0h10m1 0h3m10 0h11m1 0h1m7 0h2m4 0h10m3 0h2m2 0h2m4 0h2m17 0h1m20 0h3m35 0h4m3 0h4m13 0h1m17 0h14m17 0h4m6 0h6m5 0h4m3 0h6m9 0h4M172 162.5h14m17 0h5m4 0h2m5 0h1m40 0h4m41 0h1m14 0h14m4 0h8m44 0h3m6 0h3m31 0h3m94 0h1m35 0h2m3 0h3m6 0h2m3 0h5m3 0h16m9 0h10m4 0h2m3 0h10m3 0h4m3 0h4m5 0h4m1 0h2m35 0h3m6 0h1m3 0h1m12 0h2m10 0h4m2 0h5m6 0h2m6 0h2m10 0h1m3 0h3m4 0h6m14 0h8m6 0h6m6 0h3m4 0h8m2 0h1m2 0h6M167 163.5h13m1 0h5m15 0h8m2 0h3m4 0h3m2 0h1m36 0h4m40 0h2m8 0h2m4 0h15m2 0h6m47 0h2m8 0h1m22 0h2m8 0h2m3 0h1m20 0h6m70 0h2m29 0h2m2 0h4m11 0h13m2 0h14m4 0h11m3 0h16m4 0h3m2 0h4m4 0h15m26 0h5m5 0h8m11 0h2m10 0h10m5 0h3m6 0h2m6 0h3m6 0h2m8 0h3m2 0h1m8 0h10m5 0h6m8 0h2m5 0h7m2 0h6m1 0h2M167 164.5h22m1 0h1m9 0h25m37 0h2m8 0h1m40 0h3m5 0h8m1 0h3m4 0h5m81 0h2m8 0h2m24 0h5m5 0h2m14 0h2m48 0h2m34 0h2m13 0h12m1 0h9m3 0h5m6 0h7m1 0h18m2 0h13m4 0h4m3 0h6m2 0h2m4 0h1m17 0h1m2 0h3m5 0h7m12 0h1m12 0h7m6 0h3m5 0h2m4 0h7m5 0h2m9 0h2m11 0h10m5 0h6m26 0h4m2 0h2M158 165.5h4m5 0h2m2 0h21m7 0h21m3 0h4m21 0h2m22 0h2m34 0h1m13 0h12m3 0h5m88 0h9m5 0h3m12 0h1m8 0h2m16 0h1m42 0h1m50 0h2m4 0h4m6 0h10m5 0h2m9 0h5m3 0h3m2 0h5m2 0h22m10 0h5m30 0h3m6 0h6m6 0h3m2 0h1m14 0h14m6 0h2m4 0h6m6 0h5m10 0h2m9 0h2m4 0h2m4 0h6m27 0h4m2 0h2M159 166.5h5m3 0h3m1 0h11m3 0h9m1 0h11m7 0h6m5 0h3m5 0h2m29 0h2m43 0h3m6 0h3m2 0h19m90 0h3m30 0h1m62 0h2m47 0h6m4 0h4m6 0h2m2 0h6m5 0h2m9 0h4m10 0h4m2 0h7m5 0h10m2 0h3m5 0h6m3 0h2m8 0h2m16 0h1m7 0h5m5 0h5m1 0h2m13 0h11m15 0h4m22 0h2m23 0h2m30 0h4M161 167.5h2m5 0h13m5 0h15m2 0h2m12 0h1m14 0h2m26 0h5m15 0h2m30 0h1m4 0h3m2 0h19m78 0h2m58 0h3m95 0h4m4 0h7m19 0h1m5 0h4m1 0h4m16 0h9m4 0h15m4 0h6m14 0h1m14 0h1m9 0h3m3 0h8m17 0h6m1 0h4m67 0h2M151 168.5h2m3 0h4m8 0h5m3 0h4m7 0h15m61 0h2m16 0h1m11 0h1m17 0h2m5 0h2m1 0h10m1 0h8m22 0h2m1 0h3m10 0h1m40 0h3m45 0h2m8 0h6m16 0h3m57 0h3m1 0h2m14 0h4m2 0h6m16 0h2m8 0h3m3 0h4m13 0h6m1 0h5m1 0h10m2 0h3m7 0h7m27 0h15m1 0h4m2 0h2m13 0h9m3 0h8m26 0h1m35 0h1m15 0h1M150 169.5h3m2 0h6m2 0h3m1 0h4m4 0h7m1 0h19m2 0h3m14 0h3m33 0h2m50 0h4m5 0h13m2 0h6m14 0h2m7 0h3m18 0h2m22 0h4m9 0h3m20 0h3m21 0h1m7 0h1m2 0h1m65 0h3m2 0h1m10 0h4m16 0h4m2 0h5m16 0h4m2 0h2m1 0h3m5 0h2m14 0h2m7 0h13m3 0h4m6 0h8m12 0h1m12 0h21m2 0h3m12 0h8m7 0h5m2 0h1m65 0h1m4 0h3M150 170.5h7m1 0h2m2 0h9m7 0h22m4 0h3m2 0h2m13 0h2m31 0h2m44 0h1m3 0h6m4 0h18m2 0h1m13 0h7m3 0h3m9 0h2m8 0h2m22 0h5m8 0h2m22 0h2m3 0h2m21 0h5m66 0h5m1 0h1m11 0h4m15 0h2m4 0h5m16 0h3m3 0h2m2 0h2m10 0h2m20 0h18m2 0h1m3 0h7m10 0h1m3 0h5m7 0h8m1 0h12m1 0h4m4 0h1m6 0h2m2 0h3m9 0h9m4 0h2m62 0h3M146 171.5h8m4 0h1m4 0h2m3 0h5m5 0h9m2 0h13m8 0h1m45 0h1m32 0h5m13 0h6m6 0h1m2 0h13m17 0h1m2 0h3m3 0h2m10 0h2m33 0h3m37 0h2m22 0h4m62 0h2m3 0h4m13 0h6m3 0h1m15 0h6m16 0h2m8 0h3m3 0h1m4 0h3m13 0h3m8 0h18m3 0h5m10 0h2m4 0h4m9 0h1m3 0h2m1 0h17m3 0h4m4 0h2m1 0h4m9 0h2m3 0h7m1 0h2m7 0h1m55 0h2M144 172.5h10m4 0h2m7 0h6m4 0h5m1 0h1m7 0h12m7 0h1m44 0h2m29 0h4m1 0h4m1 0h2m7 0h4m2 0h7m4 0h13m16 0h1m3 0h3m9 0h5m1 0h1m98 0h3m20 0h2m34 0h3m9 0h3m13 0h6m3 0h3m13 0h4m29 0h4m7 0h4m23 0h19m1 0h6m7 0h2m3 0h1m4 0h2m9 0h2m4 0h19m3 0h3m3 0h9m15 0h6m2 0h1m6 0h2m45 0h1M146 173.5h2m4 0h3m3 0h1m6 0h7m5 0h8m7 0h9m8 0h3m73 0h4m16 0h7m2 0h4m4 0h13m32 0h4m111 0h1m35 0h1m24 0h6m10 0h4m5 0h2m48 0h4m7 0h4m24 0h1m2 0h23m14 0h3m5 0h3m2 0h2m4 0h1m2 0h2m4 0h2m1 0h10m3 0h5m2 0h4m16 0h5m13 0h2m41 0h1M64 174.5h1m85 0h5m2 0h13m7 0h9m5 0h1m2 0h6m3 0h1m6 0h1m60 0h3m9 0h4m14 0h3m1 0h5m11 0h5m2 0h6m148 0h1m34 0h2m25 0h5m11 0h2m6 0h2m49 0h4m7 0h3m27 0h14m3 0h6m14 0h3m2 0h1m25 0h10m2 0h5m4 0h2m6 0h1m7 0h1m1 0h7m8 0h1m3 0h1m8 0h1M62 175.5h7m81 0h2m5 0h9m12 0h6m10 0h6m2 0h2m89 0h4m3 0h10m12 0h11m138 0h2m45 0h1m41 0h2m5 0h4m15 0h4m32 0h2m7 0h2m32 0h8m4 0h4m14 0h3m2 0h4m2 0h1m16 0h2m2 0h7m1 0h3m3 0h5m1 0h5m12 0h11m6 0h3m10 0h2m25 0h2M60 176.5h12m65 0h3m17 0h10m4 0h4m3 0h4m12 0h1m12 0h3m79 0h8m2 0h3m4 0h4m3 0h3m6 0h6m2 0h3m138 0h3m68 0h1m17 0h3m4 0h3m16 0h4m81 0h2m3 0h5m3 0h5m6 0h3m3 0h7m19 0h3m3 0h6m4 0h2m19 0h12m3 0h6m5 0h6m11 0h1M58 177.5h12m2 0h4m59 0h6m16 0h17m6 0h5m2 0h5m15 0h3m5 0h6m6 0h3m43 0h2m15 0h4m5 0h2m6 0h11m2 0h9m50 0h3m160 0h1m18 0h3m5 0h1m18 0h2m87 0h5m2 0h6m5 0h5m2 0h3m3 0h2m17 0h2m6 0h4m4 0h2m4 0h1m3 0h10m9 0h5m1 0h8m3 0h7m32 0h2m23 0h1M55 178.5h24m23 0h2m3 0h1m22 0h1m5 0h1m12 0h2m3 0h22m2 0h15m7 0h2m3 0h1m8 0h4m10 0h1m48 0h2m11 0h4m15 0h9m3 0h8m50 0h2m181 0h1m6 0h1m46 0h1m28 0h1m32 0h23m1 0h2m3 0h4m2 0h4m2 0h2m10 0h6m16 0h11m7 0h2m1 0h13m5 0h5m31 0h1M53 179.5h26m1 0h3m17 0h4m3 0h2m18 0h1m20 0h3m3 0h29m2 0h9m5 0h7m7 0h5m7 0h1m25 0h4m22 0h2m7 0h2m3 0h1m17 0h8m3 0h8m46 0h2m3 0h2m180 0h2m11 0h2m40 0h2m60 0h24m3 0h16m11 0h5m17 0h11m3 0h5m1 0h13m5 0h4m17 0h1m28 0h1M51 180.5h27m2 0h7m10 0h2m3 0h9m14 0h2m2 0h1m15 0h8m3 0h17m1 0h19m6 0h4m10 0h6m5 0h2m5 0h3m17 0h3m7 0h2m6 0h2m8 0h2m3 0h5m1 0h2m4 0h5m7 0h16m136 0h1m21 0h1m78 0h4m9 0h1m42 0h3m16 0h4m37 0h5m2 0h37m1 0h3m27 0h1m3 0h3m2 0h5m1 0h21m1 0h2m3 0h1m42 0h2m2 0h4M50 181.5h28m3 0h11m2 0h5m8 0h6m9 0h12m5 0h2m4 0h3m2 0h3m5 0h35m8 0h2m5 0h12m5 0h1m6 0h3m17 0h1m8 0h3m5 0h2m2 0h1m6 0h8m2 0h2m3 0h6m8 0h12m2 0h3m4 0h1m128 0h3m15 0h1m3 0h3m66 0h2m19 0h1m46 0h2m16 0h5m33 0h1m2 0h5m3 0h3m1 0h11m2 0h3m7 0h14m26 0h1m8 0h26m51 0h1M49 182.5h13m1 0h4m2 0h9m3 0h19m6 0h6m6 0h14m6 0h3m9 0h3m6 0h10m2 0h6m4 0h5m2 0h4m14 0h7m1 0h5m4 0h4m6 0h2m26 0h6m5 0h4m3 0h2m4 0h16m10 0h15m4 0h1m93 0h2m33 0h3m14 0h2m4 0h1m35 0h1m33 0h1m85 0h4m30 0h5m9 0h18m3 0h2m4 0h13m13 0h2m1 0h4m5 0h2m7 0h26m15 0h3M48 183.5h12m4 0h2m3 0h9m2 0h22m1 0h10m4 0h15m2 0h7m10 0h26m12 0h3m16 0h10m4 0h5m6 0h3m24 0h10m2 0h4m3 0h3m5 0h15m10 0h16m132 0h1m16 0h3m1 0h1m76 0h1m5 0h1m74 0h2m31 0h5m9 0h1m1 0h16m2 0h4m3 0h13m7 0h4m2 0h7m5 0h33m13 0h1m3 0h4m24 0h3M47 184.5h13m3 0h3m2 0h39m2 0h5m4 0h21m4 0h6m1 0h12m2 0h14m10 0h4m16 0h7m11 0h5m3 0h2m22 0h12m3 0h12m2 0h6m2 0h7m13 0h7m3 0h3m108 0h2m30 0h2m8 0h1m9 0h4m28 0h2m35 0h2m17 0h1m45 0h1m52 0h2m8 0h2m3 0h37m5 0h9m1 0h8m2 0h24m1 0h7m2 0h1m3 0h2m32 0h2m3 0h3m28 0h1M46 185.5h16m2 0h2m1 0h9m2 0h4m1 0h24m2 0h5m2 0h10m3 0h7m7 0h9m7 0h3m2 0h4m3 0h8m22 0h2m4 0h8m11 0h5m26 0h6m5 0h19m2 0h10m12 0h11m3 0h3m138 0h3m16 0h11m8 0h1m43 0h2m11 0h2m10 0h5m83 0h2m2 0h5m6 0h1m5 0h5m4 0h14m1 0h23m2 0h10m2 0h7m3 0h2m2 0h10m3 0h5m1 0h16m17 0h1m11 0h6m1 0h3M45 186.5h20m3 0h14m4 0h6m2 0h30m7 0h4m10 0h8m5 0h10m9 0h2m19 0h1m3 0h1m5 0h8m10 0h1m2 0h3m24 0h1m2 0h2m6 0h12m2 0h13m3 0h2m12 0h9m113 0h2m16 0h2m10 0h4m19 0h5m2 0h3m65 0h2m9 0h4m4 0h3m58 0h2m23 0h4m13 0h3m6 0h2m2 0h9m1 0h23m6 0h7m3 0h1m2 0h2m4 0h1m2 0h4m1 0h5m4 0h19m13 0h2m3 0h3m6 0h14M44 187.5h22m1 0h17m2 0h29m2 0h7m8 0h2m5 0h2m4 0h5m1 0h5m5 0h1m1 0h4m10 0h3m29 0h11m10 0h6m9 0h2m10 0h4m5 0h14m1 0h5m3 0h5m4 0h2m14 0h4m53 0h3m5 0h2m13 0h1m38 0h1m17 0h1m10 0h4m23 0h2m3 0h1m9 0h3m46 0h5m14 0h14m38 0h2m15 0h2m40 0h2m6 0h3m3 0h32m7 0h7m1 0h1m3 0h2m4 0h1m3 0h8m7 0h16m7 0h2m3 0h9m1 0h20M43 188.5h48m2 0h22m2 0h2m13 0h3m4 0h3m4 0h4m1 0h3m4 0h3m11 0h8m29 0h3m2 0h7m13 0h5m6 0h3m4 0h6m2 0h4m1 0h7m3 0h11m2 0h5m4 0h3m15 0h3m52 0h4m67 0h4m18 0h1m3 0h3m19 0h1m3 0h2m8 0h4m15 0h3m28 0h3m17 0h2m4 0h8m2 0h2m33 0h2m26 0h2m29 0h1m6 0h4m7 0h9m1 0h18m3 0h14m2 0h9m2 0h7m8 0h16m6 0h5m3 0h2m2 0h12m1 0h6m24 0h2M43 189.5h48m2 0h19m2 0h5m6 0h10m1 0h7m4 0h9m2 0h3m6 0h3m1 0h7m16 0h3m8 0h2m2 0h3m2 0h8m11 0h11m1 0h14m7 0h3m3 0h4m1 0h16m7 0h2m79 0h1m56 0h8m21 0h3m15 0h2m2 0h1m4 0h2m27 0h2m10 0h3m15 0h2m18 0h3m3 0h8m39 0h7m6 0h1m18 0h2m14 0h1m14 0h1m7 0h1m3 0h4m1 0h1m3 0h19m3 0h15m1 0h8m3 0h14m2 0h14m5 0h7m3 0h16m2 0h5m2 0h1m1 0h3m17 0h2m8 0h1M42 190.5h9m1 0h15m1 0h29m1 0h6m1 0h7m2 0h9m2 0h8m3 0h8m3 0h2m2 0h8m7 0h3m6 0h4m4 0h2m13 0h5m2 0h17m6 0h32m12 0h3m3 0h17m6 0h1m8 0h5m121 0h10m3 0h3m33 0h2m6 0h4m12 0h3m11 0h2m9 0h1m38 0h6m2 0h5m41 0h4m1 0h3m31 0h1m6 0h2m12 0h3m5 0h1m1 0h2m7 0h6m4 0h13m3 0h5m2 0h2m4 0h2m2 0h6m4 0h15m2 0h15m4 0h5m3 0h18m1 0h5m1 0h13m10 0h1M41 191.5h9m2 0h16m1 0h9m3 0h15m2 0h25m3 0h6m4 0h10m6 0h8m15 0h3m3 0h5m12 0h7m1 0h17m5 0h1m2 0h9m3 0h10m2 0h5m9 0h1m3 0h2m4 0h16m16 0h4m56 0h1m67 0h6m40 0h3m5 0h5m3 0h1m5 0h4m35 0h3m10 0h1m14 0h3m7 0h2m2 0h1m44 0h2m29 0h2m7 0h2m10 0h6m11 0h1m2 0h3m8 0h15m3 0h4m12 0h7m3 0h15m1 0h16m3 0h4m4 0h25m2 0h13M41 192.5h19m1 0h8m2 0h7m1 0h18m2 0h24m4 0h6m2 0h10m8 0h8m3 0h1m10 0h4m2 0h3m2 0h2m9 0h16m2 0h3m2 0h8m5 0h6m6 0h3m32 0h15m2 0h2m12 0h6m15 0h1m11 0h2m23 0h4m66 0h2m3 0h1m27 0h2m11 0h3m7 0h2m11 0h2m34 0h5m35 0h7m80 0h4m6 0h2m4 0h9m5 0h3m1 0h3m4 0h19m3 0h5m11 0h8m1 0h40m5 0h30m1 0h2M43 193.5h21m1 0h6m2 0h5m3 0h11m2 0h4m1 0h9m1 0h13m4 0h2m3 0h15m4 0h1m4 0h11m2 0h11m18 0h12m2 0h7m2 0h7m5 0h6m7 0h1m33 0h11m2 0h9m11 0h3m12 0h2m14 0h3m23 0h3m13 0h3m53 0h1m1 0h11m18 0h1m5 0h2m16 0h1m31 0h1m13 0h8m11 0h2m20 0h8m80 0h3m9 0h1m7 0h9m2 0h6m4 0h12m3 0h4m1 0h5m9 0h2m1 0h14m2 0h36m2 0h35M39 194.5h2m2 0h20m12 0h2m4 0h7m6 0h14m1 0h12m6 0h15m1 0h7m7 0h6m5 0h10m23 0h7m2 0h16m6 0h5m6 0h3m29 0h14m10 0h2m30 0h2m10 0h2m25 0h3m5 0h2m4 0h3m14 0h1m38 0h11m17 0h2m4 0h1m4 0h1m59 0h2m1 0h4m2 0h4m4 0h2m4 0h2m20 0h5m82 0h3m17 0h2m3 0h4m2 0h23m25 0h60m2 0h20m4 0h2M43 195.5h6m7 0h7m18 0h8m6 0h26m5 0h16m1 0h6m7 0h7m2 0h9m28 0h10m5 0h11m6 0h3m4 0h5m6 0h4m18 0h15m3 0h3m36 0h6m35 0h1m5 0h2m21 0h1m5 0h1m36 0h5m23 0h2m9 0h3m51 0h4m5 0h1m2 0h9m5 0h1m22 0h3m70 0h1m8 0h2m20 0h4m3 0h29m3 0h2m2 0h1m7 0h1m7 0h83m4 0h4M59 196.5h3m8 0h3m8 0h3m2 0h4m6 0h19m2 0h3m6 0h26m4 0h7m2 0h9m21 0h2m6 0h9m6 0h11m4 0h3m5 0h7m2 0h6m12 0h1m5 0h3m2 0h10m2 0h6m35 0h4m43 0h1m19 0h3m3 0h3m38 0h3m35 0h2m2 0h1m49 0h3m9 0h5m18 0h9m75 0h3m4 0h1m3 0h1m16 0h2m4 0h4m1 0h25m3 0h8m1 0h4m7 0h17m1 0h33m1 0h10m3 0h21m6 0h3M58 197.5h3m8 0h5m8 0h11m5 0h22m8 0h14m2 0h13m3 0h4m3 0h7m4 0h2m6 0h3m7 0h3m5 0h8m7 0h1m2 0h15m4 0h7m1 0h7m9 0h3m4 0h5m4 0h4m5 0h6m29 0h3m4 0h2m6 0h2m32 0h3m3 0h2m64 0h4m89 0h3m7 0h5m25 0h4m74 0h3m4 0h1m3 0h1m24 0h21m1 0h5m7 0h5m3 0h1m8 0h50m2 0h8m6 0h6m2 0h3m7 0h2m6 0h3M56 198.5h19m6 0h13m4 0h20m10 0h13m3 0h13m4 0h2m5 0h11m5 0h4m3 0h2m5 0h4m3 0h12m3 0h17m4 0h7m1 0h3m12 0h3m5 0h4m4 0h3m8 0h6m2 0h2m26 0h1m3 0h3m5 0h3m4 0h1m26 0h4m3 0h2m11 0h2m23 0h1m93 0h3m24 0h2m9 0h3m8 0h3m16 0h2m2 0h1m53 0h3m17 0h3m6 0h2m2 0h3m18 0h27m7 0h8m5 0h65m7 0h5m20 0h3m4 0h2M58 199.5h19m3 0h29m2 0h4m12 0h2m5 0h24m3 0h2m4 0h12m2 0h7m1 0h6m4 0h3m1 0h11m1 0h4m1 0h18m3 0h1m8 0h4m9 0h5m4 0h4m4 0h5m5 0h9m31 0h4m33 0h4m3 0h2m4 0h2m10 0h4m117 0h3m35 0h2m8 0h4m19 0h2m72 0h3m6 0h7m17 0h31m2 0h2m2 0h5m3 0h8m1 0h8m1 0h53m4 0h6m19 0h4m3 0h2m8 0h1M36 200.5h1m22 0h8m1 0h10m2 0h30m16 0h3m5 0h29m3 0h14m3 0h5m1 0h5m5 0h15m1 0h26m6 0h1m16 0h4m3 0h5m4 0h6m3 0h8m33 0h4m32 0h4m10 0h1m10 0h7m151 0h4m8 0h4m94 0h1m9 0h5m14 0h9m2 0h23m1 0h3m10 0h4m6 0h62m4 0h3m19 0h6m3 0h2M35 201.5h3m2 0h1m19 0h21m1 0h30m16 0h2m3 0h27m1 0h2m2 0h15m8 0h2m12 0h29m1 0h10m3 0h4m16 0h4m2 0h7m5 0h3m3 0h6m2 0h5m43 0h1m10 0h6m3 0h6m6 0h3m11 0h11m147 0h7m5 0h6m104 0h3m14 0h11m1 0h9m3 0h13m3 0h2m1 0h2m2 0h5m6 0h62m5 0h1m17 0h1m6 0h3m2 0h1M33 202.5h1m2 0h5m18 0h53m4 0h1m4 0h2m8 0h20m2 0h6m2 0h16m10 0h2m12 0h29m2 0h4m1 0h5m2 0h6m3 0h1m9 0h7m13 0h3m6 0h2m3 0h4m43 0h2m8 0h7m2 0h9m4 0h3m2 0h1m11 0h3m2 0h3m4 0h2m139 0h22m8 0h4m68 0h4m20 0h2m4 0h1m9 0h21m2 0h15m1 0h4m2 0h9m5 0h63m3 0h4m11 0h3m6 0h8M32 203.5h2m4 0h3m17 0h60m2 0h4m3 0h2m2 0h6m1 0h13m3 0h10m5 0h7m11 0h3m11 0h28m3 0h16m3 0h5m6 0h6m16 0h1m7 0h2m4 0h2m43 0h2m10 0h1m7 0h6m5 0h6m14 0h1m9 0h4m2 0h4m79 0h1m36 0h1m11 0h22m1 0h4m7 0h3m67 0h2m1 0h3m17 0h1m1 0h4m1 0h4m11 0h17m3 0h3m4 0h12m5 0h10m1 0h29m1 0h34m3 0h6m9 0h2m2 0h3m1 0h9M32 204.5h1m6 0h3m13 0h10m1 0h51m2 0h32m4 0h24m4 0h8m4 0h3m3 0h29m3 0h15m4 0h2m6 0h6m26 0h4m1 0h2m60 0h2m4 0h4m5 0h7m3 0h1m10 0h4m4 0h4m12 0h2m5 0h3m104 0h2m7 0h20m3 0h3m14 0h2m48 0h1m12 0h2m3 0h2m4 0h4m2 0h2m7 0h3m2 0h5m11 0h16m10 0h13m4 0h13m2 0h24m4 0h30m6 0h1m3 0h3m14 0h11M35 205.5h1m3 0h3m9 0h12m2 0h41m2 0h18m1 0h5m2 0h17m5 0h23m7 0h5m4 0h3m3 0h31m2 0h2m2 0h3m4 0h2m13 0h7m3 0h5m16 0h7m48 0h3m10 0h2m5 0h4m1 0h3m4 0h5m14 0h2m4 0h3m5 0h1m7 0h1m1 0h2m3 0h3m6 0h1m96 0h4m6 0h3m6 0h10m10 0h2m15 0h2m28 0h1m6 0h2m18 0h8m2 0h4m3 0h2m6 0h3m5 0h2m13 0h17m8 0h9m2 0h3m2 0h9m7 0h8m2 0h15m6 0h3m2 0h21m29 0h9M35 206.5h2m3 0h2m9 0h10m5 0h18m2 0h20m3 0h17m2 0h2m3 0h16m10 0h20m8 0h4m4 0h1m6 0h29m2 0h3m3 0h2m4 0h2m14 0h3m3 0h1m2 0h7m5 0h3m5 0h7m48 0h4m23 0h1m7 0h2m3 0h2m10 0h3m2 0h3m18 0h2m3 0h1m100 0h6m8 0h6m3 0h9m1 0h4m5 0h2m15 0h2m24 0h5m2 0h2m1 0h2m20 0h7m2 0h2m12 0h3m6 0h2m10 0h21m2 0h9m2 0h2m3 0h14m2 0h18m1 0h13m5 0h3m2 0h20m9 0h5m16 0h5m4 0h2M30 207.5h3m2 0h3m2 0h3m3 0h4m3 0h32m2 0h14m2 0h4m4 0h15m1 0h2m4 0h6m2 0h14m5 0h2m1 0h15m7 0h5m3 0h2m7 0h2m4 0h20m2 0h7m7 0h4m9 0h2m2 0h3m8 0h13m4 0h7m14 0h2m68 0h1m4 0h1m2 0h2m7 0h8m8 0h2m89 0h1m25 0h3m4 0h2m4 0h7m4 0h6m2 0h4m4 0h3m8 0h1m5 0h3m21 0h10m3 0h2m8 0h3m12 0h8m13 0h1m7 0h3m10 0h31m7 0h48m3 0h7m4 0h20m1 0h2m3 0h6m9 0h1m4 0h10M29 208.5h14m3 0h27m1 0h11m4 0h11m3 0h6m2 0h14m2 0h2m3 0h22m5 0h17m9 0h5m3 0h2m7 0h2m4 0h20m2 0h10m3 0h2m9 0h10m2 0h2m5 0h3m2 0h7m4 0h8m12 0h3m26 0h1m40 0h2m4 0h1m3 0h2m3 0h15m20 0h3m9 0h3m75 0h2m15 0h3m4 0h7m2 0h1m5 0h2m1 0h5m4 0h3m13 0h4m20 0h3m3 0h6m2 0h3m4 0h7m1 0h6m7 0h2m19 0h2m4 0h2m4 0h3m6 0h27m10 0h1m2 0h7m1 0h3m2 0h85m3 0h10M30 209.5h12m5 0h6m1 0h4m3 0h6m3 0h2m2 0h11m4 0h11m2 0h6m3 0h12m4 0h2m3 0h13m3 0h5m3 0h18m10 0h6m4 0h1m1 0h3m3 0h10m3 0h6m3 0h8m3 0h5m13 0h12m9 0h12m2 0h9m9 0h3m58 0h3m6 0h2m7 0h6m2 0h17m20 0h8m2 0h4m100 0h6m3 0h1m6 0h5m7 0h3m9 0h6m20 0h3m3 0h8m6 0h13m9 0h3m18 0h3m2 0h4m2 0h5m6 0h19m2 0h5m10 0h39m2 0h61m2 0h8M28 210.5h14m6 0h6m13 0h2m6 0h6m8 0h3m2 0h6m2 0h5m5 0h11m1 0h4m4 0h12m4 0h26m5 0h2m2 0h15m5 0h8m5 0h4m4 0h7m3 0h7m9 0h14m6 0h2m4 0h5m2 0h3m1 0h10m9 0h3m51 0h3m5 0h1m3 0h2m2 0h2m6 0h18m3 0h5m24 0h11m4 0h1m94 0h6m2 0h2m4 0h5m9 0h4m8 0h9m17 0h8m1 0h4m7 0h7m2 0h3m4 0h1m7 0h1m7 0h2m2 0h2m5 0h3m1 0h12m5 0h9m1 0h10m3 0h5m3 0h4m2 0h104m1 0h6M28 211.5h6m2 0h11m2 0h5m3 0h4m3 0h5m21 0h2m2 0h6m4 0h3m2 0h2m1 0h19m2 0h10m4 0h15m4 0h10m3 0h19m7 0h1m9 0h4m3 0h21m4 0h17m3 0h6m6 0h2m2 0h2m3 0h8m2 0h2m5 0h7m3 0h1m36 0h2m6 0h4m8 0h3m10 0h16m5 0h5m25 0h2m3 0h7m1 0h2m68 0h2m11 0h3m4 0h15m3 0h5m12 0h2m8 0h2m5 0h8m11 0h6m3 0h3m10 0h6m8 0h4m10 0h4m2 0h3m2 0h3m1 0h10m3 0h1m2 0h1m4 0h13m8 0h5m4 0h4m1 0h12m6 0h92M30 212.5h4m2 0h11m11 0h3m2 0h5m27 0h6m3 0h13m2 0h2m2 0h19m5 0h30m3 0h11m2 0h6m5 0h6m5 0h5m1 0h3m4 0h2m1 0h3m1 0h4m7 0h19m1 0h8m9 0h1m10 0h6m1 0h2m4 0h5m3 0h2m36 0h1m2 0h2m10 0h1m3 0h8m9 0h1m3 0h8m8 0h2m11 0h1m14 0h1m7 0h3m3 0h1m66 0h4m11 0h2m3 0h4m3 0h5m1 0h2m5 0h3m18 0h3m12 0h5m6 0h3m2 0h6m2 0h5m11 0h5m7 0h5m7 0h7m1 0h3m2 0h14m2 0h5m5 0h12m6 0h6m5 0h3m3 0h12m9 0h87M27 213.5h20m16 0h1m30 0h2m1 0h8m3 0h9m3 0h2m1 0h20m2 0h33m1 0h12m3 0h4m5 0h7m6 0h22m6 0h21m2 0h7m15 0h14m5 0h5m2 0h5m20 0h3m30 0h9m11 0h9m20 0h3m6 0h3m8 0h2m2 0h1m4 0h2m65 0h5m36 0h2m18 0h2m3 0h3m5 0h1m15 0h9m1 0h5m8 0h2m3 0h7m4 0h2m4 0h2m3 0h5m8 0h14m2 0h4m5 0h13m2 0h5m10 0h2m10 0h7m11 0h31m1 0h12m4 0h11m1 0h2m2 0h19M27 214.5h18m48 0h2m3 0h9m4 0h5m3 0h24m1 0h30m1 0h23m4 0h8m3 0h19m2 0h4m5 0h6m3 0h2m2 0h9m3 0h4m14 0h8m5 0h2m7 0h5m2 0h4m20 0h4m3 0h2m13 0h1m12 0h8m7 0h1m2 0h6m16 0h2m6 0h3m5 0h4m7 0h2m8 0h3m64 0h5m21 0h1m9 0h1m23 0h2m4 0h9m25 0h9m5 0h16m3 0h5m2 0h4m5 0h2m2 0h7m1 0h7m1 0h4m4 0h5m1 0h8m3 0h2m11 0h5m8 0h7m7 0h1m2 0h30m2 0h13m5 0h11m2 0h20M27 215.5h5m1 0h12m24 0h2m25 0h11m2 0h34m2 0h54m2 0h30m3 0h4m3 0h10m6 0h5m8 0h2m6 0h1m8 0h5m4 0h5m3 0h3m2 0h2m4 0h3m14 0h2m9 0h4m12 0h4m2 0h2m8 0h8m6 0h14m20 0h1m17 0h1m10 0h3m7 0h1m51 0h8m18 0h5m32 0h3m5 0h7m8 0h2m16 0h10m4 0h17m2 0h4m11 0h3m3 0h20m3 0h5m1 0h3m7 0h4m9 0h6m8 0h8m5 0h2m2 0h25m5 0h10m4 0h2m2 0h12m3 0h19M27 216.5h6m2 0h9m24 0h5m18 0h14m4 0h4m1 0h45m1 0h11m2 0h32m3 0h5m3 0h8m4 0h2m5 0h2m4 0h9m6 0h7m15 0h3m15 0h4m3 0h5m9 0h3m11 0h2m10 0h4m4 0h5m2 0h5m1 0h2m10 0h17m2 0h7m114 0h6m15 0h6m2 0h2m30 0h4m4 0h4m5 0h1m4 0h3m5 0h1m10 0h11m3 0h16m15 0h6m3 0h9m2 0h10m3 0h2m3 0h2m4 0h8m5 0h1m18 0h42m4 0h9m5 0h3m1 0h11m1 0h20M30 217.5h2m3 0h12m22 0h4m18 0h14m2 0h4m4 0h2m4 0h9m5 0h71m3 0h3m7 0h4m5 0h7m8 0h3m1 0h4m4 0h8m8 0h3m4 0h5m9 0h4m1 0h3m3 0h8m6 0h3m32 0h1m3 0h7m7 0h2m5 0h16m2 0h4m11 0h4m1 0h2m101 0h3m7 0h1m3 0h3m2 0h6m2 0h3m17 0h3m10 0h2m10 0h6m4 0h1m1 0h3m13 0h5m3 0h20m17 0h5m3 0h10m4 0h1m2 0h10m2 0h3m4 0h5m18 0h2m6 0h13m3 0h3m2 0h23m7 0h5m3 0h5m2 0h30M26 218.5h1m5 0h15m22 0h2m21 0h4m5 0h5m1 0h3m12 0h7m8 0h8m9 0h29m2 0h22m1 0h3m16 0h9m20 0h7m9 0h3m2 0h5m10 0h10m1 0h9m2 0h5m13 0h1m18 0h3m2 0h4m7 0h1m1 0h4m4 0h16m1 0h4m4 0h3m3 0h8m112 0h2m3 0h2m2 0h11m14 0h6m8 0h3m4 0h3m4 0h3m1 0h3m20 0h6m5 0h4m2 0h4m4 0h6m1 0h2m11 0h3m5 0h16m3 0h16m2 0h2m22 0h1m6 0h14m3 0h27m8 0h4m2 0h3m5 0h1m1 0h27M26 219.5h2m5 0h4m1 0h4m27 0h1m23 0h2m12 0h2m3 0h1m10 0h2m12 0h10m5 0h26m3 0h5m2 0h22m5 0h2m9 0h16m25 0h2m4 0h1m3 0h3m15 0h7m2 0h14m8 0h4m2 0h1m13 0h2m3 0h11m4 0h4m6 0h22m3 0h5m4 0h6m18 0h3m91 0h1m2 0h6m2 0h9m14 0h4m11 0h1m5 0h3m4 0h2m3 0h6m15 0h2m3 0h2m5 0h4m2 0h4m4 0h5m4 0h1m7 0h6m4 0h10m2 0h8m2 0h14m2 0h4m2 0h4m20 0h14m4 0h26m8 0h10m2 0h1m5 0h25M26 220.5h6m3 0h1m4 0h1m48 0h4m14 0h1m1 0h4m23 0h13m3 0h25m3 0h8m3 0h19m4 0h4m11 0h18m19 0h2m5 0h1m4 0h2m1 0h2m12 0h3m7 0h4m2 0h7m1 0h2m6 0h6m12 0h4m3 0h3m2 0h6m2 0h4m6 0h20m3 0h1m1 0h8m1 0h6m19 0h2m16 0h3m71 0h3m2 0h15m2 0h3m2 0h4m25 0h5m3 0h4m1 0h3m12 0h1m23 0h3m4 0h6m4 0h2m6 0h6m1 0h6m5 0h2m5 0h14m3 0h4m3 0h2m3 0h5m18 0h3m1 0h11m2 0h29m6 0h15m3 0h26M25 221.5h7m3 0h2m3 0h1m26 0h1m22 0h4m9 0h10m4 0h2m13 0h11m2 0h5m1 0h26m2 0h9m2 0h20m5 0h9m6 0h10m1 0h6m3 0h2m4 0h2m15 0h1m7 0h5m5 0h1m4 0h1m13 0h7m3 0h3m8 0h3m12 0h1m9 0h6m1 0h5m3 0h8m2 0h4m3 0h7m2 0h7m4 0h6m18 0h1m19 0h4m29 0h10m36 0h12m12 0h2m9 0h5m10 0h17m11 0h5m12 0h1m4 0h1m3 0h3m2 0h13m12 0h14m6 0h13m3 0h5m2 0h1m26 0h37m1 0h10m2 0h18m2 0h26M25 222.5h4m2 0h13m23 0h1m23 0h3m13 0h6m18 0h3m3 0h6m3 0h40m3 0h22m3 0h6m1 0h2m8 0h3m1 0h4m5 0h8m24 0h2m3 0h5m23 0h3m1 0h6m3 0h3m7 0h3m17 0h2m2 0h5m10 0h8m2 0h2m8 0h5m2 0h5m27 0h3m21 0h2m30 0h6m1 0h3m4 0h2m7 0h1m14 0h1m5 0h3m2 0h7m2 0h1m34 0h4m3 0h6m3 0h3m4 0h1m26 0h3m2 0h22m9 0h34m2 0h5m19 0h5m3 0h6m2 0h31m1 0h9m3 0h10m2 0h5m2 0h15m3 0h9M24 223.5h20m27 0h2m22 0h1m11 0h5m25 0h7m2 0h19m1 0h21m1 0h5m1 0h21m2 0h2m12 0h7m8 0h6m17 0h2m2 0h5m3 0h4m4 0h2m18 0h10m3 0h5m5 0h2m18 0h2m9 0h2m6 0h9m1 0h3m7 0h13m27 0h6m49 0h3m13 0h3m14 0h5m5 0h4m2 0h10m4 0h4m27 0h2m5 0h5m37 0h28m8 0h10m6 0h18m26 0h5m4 0h3m5 0h38m4 0h3m1 0h7m3 0h4m3 0h23M24 224.5h20m25 0h2m2 0h3m15 0h1m15 0h1m29 0h7m1 0h18m3 0h1m2 0h7m1 0h4m1 0h9m6 0h16m5 0h2m11 0h4m11 0h7m15 0h16m3 0h4m18 0h10m1 0h1m1 0h6m1 0h5m19 0h8m2 0h2m3 0h4m1 0h8m2 0h3m4 0h8m3 0h1m7 0h2m3 0h2m17 0h4m4 0h1m42 0h5m12 0h4m11 0h2m1 0h5m5 0h17m3 0h3m5 0h3m4 0h2m3 0h3m16 0h3m40 0h24m3 0h4m2 0h27m3 0h5m27 0h3m13 0h53m3 0h4m2 0h4m1 0h19m1 0h1M23 225.5h2m2 0h17m4 0h6m19 0h3m13 0h4m40 0h35m1 0h18m2 0h3m4 0h16m6 0h1m13 0h4m3 0h7m4 0h3m15 0h15m4 0h1m10 0h1m10 0h8m3 0h8m2 0h4m19 0h12m1 0h15m2 0h13m11 0h3m4 0h2m4 0h2m64 0h2m12 0h2m14 0h7m6 0h7m2 0h14m5 0h3m9 0h4m7 0h1m8 0h1m42 0h22m3 0h29m1 0h3m4 0h5m30 0h6m3 0h57m5 0h2m2 0h26M23 226.5h12m3 0h5m5 0h7m7 0h2m24 0h5m6 0h2m31 0h25m4 0h32m3 0h21m2 0h1m12 0h6m1 0h8m21 0h4m2 0h11m9 0h2m12 0h7m5 0h7m4 0h1m10 0h3m4 0h3m1 0h11m2 0h23m1 0h7m6 0h3m13 0h3m37 0h2m40 0h2m2 0h2m8 0h6m8 0h4m5 0h11m1 0h3m5 0h2m7 0h1m2 0h3m62 0h3m2 0h14m3 0h11m2 0h7m2 0h5m3 0h3m42 0h3m7 0h35m1 0h14m12 0h25M23 227.5h9m1 0h3m6 0h1m6 0h4m4 0h1m4 0h2m1 0h1m22 0h6m3 0h3m31 0h25m6 0h50m1 0h3m4 0h1m10 0h7m1 0h8m21 0h4m3 0h2m6 0h2m23 0h6m8 0h6m2 0h2m18 0h5m1 0h2m2 0h3m4 0h5m4 0h12m3 0h6m5 0h5m4 0h3m3 0h1m1 0h3m20 0h2m12 0h3m32 0h1m4 0h2m6 0h7m4 0h2m2 0h2m9 0h3m5 0h9m4 0h4m11 0h10m61 0h1m3 0h9m2 0h3m2 0h10m3 0h3m1 0h3m2 0h5m3 0h5m50 0h10m7 0h2m3 0h28m12 0h25M22 228.5h9m3 0h1m7 0h3m6 0h2m2 0h4m13 0h2m1 0h2m12 0h2m39 0h28m2 0h31m2 0h20m1 0h3m3 0h3m7 0h7m2 0h8m37 0h1m4 0h1m14 0h1m16 0h3m2 0h5m20 0h2m4 0h5m5 0h1m9 0h5m1 0h5m3 0h6m2 0h7m4 0h5m5 0h5m1 0h2m4 0h2m7 0h3m11 0h3m12 0h2m19 0h1m12 0h9m6 0h2m9 0h2m11 0h4m5 0h3m10 0h2m2 0h8m65 0h5m13 0h12m3 0h1m65 0h11m8 0h1m5 0h11m2 0h7m3 0h3m14 0h4m1 0h18M21 229.5h4m17 0h4m2 0h2m5 0h4m15 0h4m46 0h36m2 0h29m2 0h21m7 0h2m10 0h3m5 0h6m23 0h5m4 0h1m9 0h2m11 0h4m3 0h2m16 0h4m27 0h5m3 0h4m3 0h7m3 0h5m2 0h6m2 0h8m3 0h3m1 0h2m5 0h10m1 0h2m7 0h3m12 0h1m25 0h2m47 0h3m11 0h1m7 0h3m1 0h2m7 0h1m3 0h8m65 0h6m2 0h1m9 0h11m3 0h3m60 0h14m11 0h1m4 0h9m4 0h12m13 0h24M20 230.5h5m6 0h10m1 0h4m1 0h3m3 0h8m13 0h2m46 0h38m3 0h6m1 0h45m6 0h3m42 0h17m19 0h4m3 0h2m6 0h3m18 0h1m9 0h4m14 0h5m1 0h9m1 0h5m2 0h7m1 0h10m2 0h2m8 0h13m5 0h4m27 0h1m12 0h4m4 0h1m40 0h4m2 0h2m3 0h3m9 0h2m13 0h8m69 0h1m28 0h2m64 0h9m19 0h9m2 0h11m2 0h5m1 0h2m5 0h5m2 0h17M20 231.5h6m4 0h11m11 0h9m59 0h38m5 0h27m4 0h20m2 0h2m6 0h3m5 0h1m22 0h4m3 0h2m2 0h12m1 0h5m18 0h4m2 0h2m7 0h4m15 0h3m9 0h3m14 0h2m3 0h13m6 0h15m2 0h4m8 0h10m9 0h1m29 0h3m7 0h1m5 0h2m3 0h4m17 0h2m3 0h2m11 0h1m2 0h5m1 0h7m10 0h2m13 0h8m97 0h2m69 0h4m22 0h19m3 0h4m3 0h1m5 0h5m5 0h14M19 232.5h5m2 0h4m2 0h9m9 0h2m2 0h7m59 0h35m8 0h27m5 0h26m4 0h3m4 0h1m23 0h4m6 0h5m6 0h1m2 0h5m17 0h4m2 0h2m17 0h1m9 0h3m7 0h2m16 0h2m4 0h1m4 0h4m1 0h2m7 0h19m8 0h7m58 0h2m5 0h1m3 0h2m14 0h1m4 0h1m10 0h1m5 0h4m2 0h5m3 0h4m4 0h1m14 0h7m170 0h3m18 0h1m4 0h17m5 0h3m9 0h5m2 0h2m2 0h13M19 233.5h4m3 0h4m2 0h9m6 0h6m1 0h7m10 0h2m29 0h4m14 0h35m2 0h2m4 0h29m3 0h26m5 0h2m4 0h1m9 0h1m14 0h2m9 0h3m3 0h11m5 0h2m1 0h2m32 0h2m7 0h4m18 0h4m14 0h11m5 0h15m9 0h7m4 0h6m81 0h1m17 0h2m4 0h3m6 0h13m4 0h2m1 0h7m171 0h5m21 0h3m1 0h13m11 0h3m2 0h6m1 0h3m3 0h13M18 234.5h4m6 0h8m2 0h7m4 0h3m5 0h3m2 0h1m36 0h8m6 0h2m1 0h44m1 0h33m7 0h19m11 0h7m3 0h4m14 0h1m8 0h4m1 0h11m5 0h6m2 0h5m34 0h4m16 0h6m14 0h13m2 0h10m3 0h3m7 0h2m13 0h4m35 0h2m43 0h3m8 0h3m3 0h1m6 0h4m7 0h14m1 0h10m172 0h6m12 0h5m4 0h1m4 0h3m2 0h5m4 0h2m5 0h12m7 0h13M18 235.5h4m5 0h8m3 0h13m6 0h7m35 0h7m10 0h58m1 0h20m5 0h10m1 0h4m1 0h4m10 0h7m5 0h5m12 0h2m3 0h2m2 0h4m2 0h11m4 0h4m3 0h8m7 0h1m4 0h1m20 0h2m15 0h4m2 0h1m14 0h22m1 0h4m2 0h3m7 0h2m5 0h5m4 0h5m33 0h2m43 0h3m9 0h2m2 0h3m2 0h6m7 0h24m174 0h7m10 0h7m15 0h3m1 0h8m3 0h12m6 0h7m2 0h4M16 236.5h7m4 0h28m5 0h4m35 0h2m3 0h2m3 0h1m4 0h59m2 0h13m2 0h5m1 0h25m9 0h8m5 0h3m12 0h14m4 0h2m3 0h4m1 0h6m4 0h11m4 0h1m4 0h2m20 0h1m14 0h5m2 0h1m13 0h12m2 0h9m1 0h9m14 0h5m6 0h5m32 0h2m30 0h7m20 0h4m3 0h3m4 0h2m2 0h11m1 0h10m178 0h3m7 0h1m6 0h2m2 0h2m7 0h1m6 0h4m2 0h8m2 0h12m6 0h13M15 237.5h2m1 0h4m3 0h5m3 0h22m7 0h2m40 0h1m3 0h80m4 0h2m1 0h17m3 0h3m10 0h9m8 0h1m14 0h12m4 0h2m4 0h2m3 0h3m7 0h2m2 0h7m3 0h2m10 0h4m10 0h2m16 0h6m8 0h2m3 0h29m2 0h4m15 0h5m4 0h5m31 0h2m24 0h2m4 0h8m2 0h2m3 0h3m5 0h1m4 0h2m4 0h4m4 0h20m1 0h4m178 0h3m15 0h6m12 0h6m1 0h20m8 0h13M14 238.5h9m2 0h4m5 0h20m8 0h3m42 0h84m4 0h17m15 0h13m5 0h3m7 0h1m5 0h8m2 0h1m4 0h14m7 0h13m12 0h5m11 0h1m6 0h1m12 0h2m10 0h4m1 0h2m2 0h13m5 0h5m4 0h5m9 0h10m3 0h6m25 0h6m4 0h1m21 0h1m4 0h13m2 0h2m8 0h3m2 0h1m3 0h5m4 0h11m2 0h6m3 0h3m185 0h2m9 0h2m11 0h35m2 0h6m2 0h7M13 239.5h11m1 0h4m4 0h21m9 0h1m14 0h1m26 0h37m1 0h42m2 0h6m1 0h19m15 0h14m5 0h1m4 0h6m1 0h10m2 0h6m3 0h11m1 0h18m4 0h3m6 0h4m17 0h3m12 0h1m11 0h3m6 0h11m6 0h5m5 0h3m5 0h2m3 0h19m25 0h11m6 0h2m10 0h11m2 0h9m11 0h14m4 0h11m3 0h6m2 0h3m180 0h8m9 0h2m6 0h13m1 0h33m3 0h5M13 240.5h11m3 0h22m15 0h2m39 0h37m2 0h41m2 0h27m10 0h3m1 0h3m1 0h11m11 0h14m3 0h6m5 0h9m1 0h18m3 0h3m6 0h5m4 0h2m2 0h9m44 0h2m5 0h6m7 0h3m3 0h2m7 0h11m5 0h7m15 0h14m17 0h12m4 0h6m8 0h3m3 0h12m6 0h4m9 0h9m180 0h9m10 0h2m5 0h6m3 0h2m3 0h41M12 241.5h14m1 0h8m2 0h11m15 0h3m39 0h37m1 0h17m1 0h54m4 0h2m2 0h3m2 0h3m1 0h11m11 0h13m4 0h4m7 0h9m3 0h1m3 0h2m2 0h10m1 0h3m5 0h8m2 0h2m2 0h9m16 0h1m17 0h4m9 0h2m2 0h4m4 0h5m7 0h2m5 0h10m9 0h7m8 0h16m1 0h7m6 0h5m1 0h14m3 0h7m2 0h7m4 0h16m2 0h4m9 0h7m182 0h4m2 0h2m11 0h3m5 0h4m2 0h3m2 0h29m4 0h9M12 242.5h12m4 0h7m3 0h11m1 0h5m8 0h1m39 0h30m1 0h11m1 0h34m2 0h34m2 0h8m3 0h24m2 0h3m2 0h5m5 0h5m8 0h13m1 0h3m4 0h7m3 0h2m3 0h3m1 0h6m3 0h5m2 0h5m11 0h2m2 0h3m15 0h5m13 0h2m6 0h6m3 0h1m3 0h3m3 0h10m3 0h1m7 0h5m9 0h13m3 0h6m2 0h7m2 0h17m2 0h6m4 0h4m2 0h1m3 0h18m1 0h3m7 0h7m185 0h3m14 0h5m4 0h39m3 0h10M12 243.5h4m2 0h6m3 0h2m3 0h4m3 0h20m17 0h2m22 0h33m1 0h10m1 0h71m2 0h7m5 0h36m2 0h6m1 0h3m5 0h12m1 0h4m8 0h2m4 0h3m1 0h3m4 0h4m11 0h5m3 0h3m3 0h18m5 0h6m4 0h2m5 0h2m8 0h6m1 0h2m3 0h1m5 0h10m8 0h8m8 0h13m5 0h10m5 0h1m2 0h8m1 0h6m2 0h6m4 0h14m2 0h8m1 0h2m3 0h4m1 0h5m2 0h3m186 0h3m7 0h3m3 0h2m8 0h39m1 0h12M12 244.5h4m6 0h2m2 0h2m4 0h3m1 0h8m3 0h9m45 0h115m2 0h7m4 0h32m3 0h3m4 0h3m2 0h3m3 0h10m6 0h2m13 0h4m8 0h4m9 0h8m1 0h5m3 0h17m4 0h7m3 0h2m2 0h6m5 0h1m1 0h10m11 0h8m7 0h9m3 0h2m2 0h17m3 0h7m5 0h13m2 0h12m5 0h9m8 0h7m1 0h3m3 0h8m3 0h2m187 0h4m6 0h2m4 0h2m6 0h28m2 0h24M11 245.5h6m9 0h2m9 0h18m46 0h41m1 0h20m2 0h44m1 0h15m1 0h17m4 0h4m1 0h7m12 0h7m4 0h7m2 0h2m4 0h6m11 0h2m5 0h7m4 0h1m4 0h12m1 0h21m2 0h10m7 0h6m4 0h13m11 0h8m6 0h36m2 0h6m4 0h8m3 0h15m8 0h8m8 0h7m1 0h4m2 0h3m2 0h3m2 0h3m188 0h2m13 0h2m2 0h17m3 0h2m2 0h6m1 0h2m1 0h16m3 0h4M11 246.5h6m2 0h1m3 0h9m8 0h9m4 0h2m45 0h21m1 0h20m1 0h16m1 0h48m6 0h9m3 0h17m4 0h3m7 0h1m11 0h3m1 0h5m4 0h6m3 0h10m13 0h2m4 0h8m4 0h16m2 0h21m2 0h5m3 0h3m7 0h19m1 0h2m12 0h4m1 0h5m3 0h3m2 0h24m2 0h3m2 0h7m4 0h8m3 0h14m2 0h1m2 0h3m2 0h8m7 0h5m1 0h7m2 0h4m1 0h7m198 0h1m5 0h21m7 0h26m5 0h2M14 247.5h6m2 0h10m8 0h9m52 0h5m1 0h34m4 0h5m2 0h40m1 0h15m2 0h3m2 0h2m10 0h13m1 0h9m2 0h3m6 0h3m5 0h7m6 0h7m2 0h10m3 0h1m12 0h4m1 0h5m5 0h17m1 0h20m3 0h5m4 0h2m3 0h1m4 0h3m3 0h12m2 0h5m9 0h30m2 0h2m3 0h2m9 0h26m2 0h3m3 0h6m1 0h3m2 0h6m10 0h3m3 0h7m2 0h11m201 0h23m4 0h28M12 248.5h6m3 0h5m2 0h4m6 0h10m40 0h4m10 0h40m2 0h6m4 0h8m3 0h36m2 0h5m1 0h4m12 0h25m19 0h8m5 0h8m1 0h14m11 0h5m3 0h2m7 0h19m3 0h15m3 0h4m4 0h7m4 0h2m6 0h4m1 0h10m8 0h12m1 0h24m8 0h1m5 0h12m4 0h8m3 0h12m2 0h1m3 0h2m2 0h3m17 0h3m1 0h15m200 0h24m6 0h26M10 249.5h1m3 0h2m4 0h5m3 0h4m5 0h10m33 0h1m6 0h2m9 0h9m2 0h33m1 0h9m3 0h7m3 0h35m3 0h10m11 0h18m5 0h3m9 0h3m8 0h7m5 0h21m8 0h10m4 0h2m4 0h14m3 0h4m2 0h7m1 0h7m4 0h4m4 0h8m3 0h3m5 0h2m2 0h5m2 0h2m12 0h10m2 0h3m4 0h15m5 0h6m3 0h9m2 0h2m6 0h3m4 0h10m2 0h2m9 0h6m12 0h22m193 0h3m2 0h23m1 0h3m3 0h11m5 0h11M10 250.5h2m3 0h10m2 0h6m4 0h10m33 0h1m17 0h7m6 0h30m3 0h8m3 0h45m7 0h9m2 0h28m4 0h4m2 0h9m3 0h9m4 0h2m1 0h18m8 0h4m2 0h5m4 0h2m2 0h15m4 0h13m3 0h4m8 0h1m5 0h1m2 0h11m8 0h5m1 0h2m14 0h9m2 0h2m5 0h2m4 0h11m4 0h6m3 0h8m2 0h6m6 0h14m4 0h6m1 0h1m2 0h5m4 0h3m4 0h13m203 0h17m1 0h27m3 0h1m2 0h3m2 0h4M11 251.5h1m3 0h21m1 0h3m1 0h5m51 0h9m5 0h41m3 0h62m1 0h9m2 0h18m3 0h15m3 0h10m6 0h5m3 0h10m8 0h2m4 0h4m8 0h6m1 0h9m6 0h14m12 0h2m9 0h9m7 0h10m13 0h9m2 0h4m3 0h2m3 0h13m3 0h7m1 0h17m6 0h5m1 0h9m3 0h16m2 0h3m5 0h15m4 0h2m196 0h15m2 0h24m17 0h1M14 252.5h26m1 0h3m52 0h7m1 0h4m1 0h8m3 0h5m2 0h24m3 0h60m4 0h5m1 0h9m3 0h11m2 0h16m4 0h9m1 0h8m5 0h10m9 0h2m2 0h5m16 0h4m2 0h2m7 0h8m1 0h5m1 0h1m15 0h2m7 0h4m6 0h5m2 0h7m11 0h4m2 0h4m2 0h9m2 0h12m4 0h2m3 0h4m2 0h8m2 0h2m4 0h2m2 0h5m3 0h7m2 0h16m3 0h8m3 0h17m198 0h33M14 253.5h15m4 0h8m1 0h1m5 0h2m43 0h1m1 0h23m3 0h4m1 0h15m2 0h71m1 0h7m2 0h10m2 0h11m2 0h16m4 0h8m2 0h13m2 0h8m12 0h6m17 0h2m14 0h5m2 0h4m2 0h1m9 0h1m3 0h5m9 0h3m4 0h4m4 0h6m20 0h1m3 0h4m6 0h3m1 0h4m2 0h2m3 0h2m11 0h8m7 0h2m2 0h4m4 0h7m2 0h15m5 0h6m4 0h6m2 0h8m200 0h14m2 0h13M16 254.5h6m1 0h6m5 0h6m8 0h2m19 0h1m22 0h71m3 0h23m3 0h29m3 0h16m2 0h6m1 0h3m1 0h10m1 0h11m4 0h2m1 0h21m6 0h2m3 0h3m3 0h2m15 0h1m16 0h3m3 0h4m11 0h9m10 0h4m4 0h4m2 0h4m2 0h4m6 0h1m6 0h1m3 0h2m2 0h4m7 0h2m1 0h2m5 0h2m4 0h1m4 0h2m8 0h12m3 0h3m4 0h8m3 0h2m4 0h2m1 0h5m1 0h10m8 0h2m2 0h2m2 0h3m202 0h12m3 0h9M17 255.5h13m2 0h5m55 0h70m2 0h22m2 0h3m2 0h29m3 0h1m2 0h13m3 0h18m3 0h8m3 0h27m2 0h5m4 0h3m3 0h2m21 0h3m3 0h2m4 0h2m4 0h5m2 0h3m2 0h12m4 0h12m3 0h7m3 0h5m5 0h4m5 0h9m15 0h12m4 0h2m6 0h13m2 0h2m8 0h4m8 0h8m3 0h14m5 0h9m204 0h4m3 0h4m3 0h6M22 256.5h14m55 0h94m2 0h36m5 0h10m6 0h5m1 0h14m1 0h7m4 0h26m4 0h5m3 0h4m24 0h4m1 0h6m3 0h1m1 0h3m2 0h3m3 0h11m1 0h5m3 0h13m1 0h8m3 0h4m7 0h4m3 0h10m3 0h3m8 0h13m5 0h1m6 0h14m1 0h2m5 0h6m5 0h14m2 0h14m3 0h10m205 0h3m4 0h2m3 0h6M19 257.5h15m34 0h4m18 0h88m1 0h44m4 0h5m1 0h1m2 0h2m6 0h5m1 0h4m3 0h8m4 0h2m4 0h3m2 0h22m1 0h8m2 0h6m3 0h4m15 0h4m2 0h9m2 0h2m11 0h6m1 0h7m6 0h27m8 0h3m2 0h4m2 0h5m4 0h2m7 0h6m4 0h2m6 0h1m9 0h11m8 0h7m1 0h39m3 0h4m221 0h1M19 258.5h12m38 0h1m20 0h9m2 0h51m1 0h25m1 0h51m2 0h3m4 0h5m7 0h2m5 0h9m1 0h43m2 0h7m1 0h5m4 0h3m14 0h6m1 0h4m13 0h4m4 0h3m11 0h17m1 0h3m2 0h4m4 0h4m4 0h11m3 0h3m5 0h8m8 0h3m4 0h6m1 0h2m1 0h10m5 0h46m3 0h4M20 259.5h11m58 0h57m2 0h2m3 0h75m3 0h4m17 0h3m2 0h50m1 0h4m1 0h2m2 0h9m4 0h4m9 0h2m4 0h4m20 0h3m18 0h6m2 0h8m1 0h3m4 0h9m5 0h19m2 0h12m5 0h2m3 0h15m3 0h11m5 0h19m2 0h24M20 260.5h7m2 0h4m41 0h1m13 0h57m5 0h9m4 0h72m17 0h18m7 0h40m3 0h13m2 0h2m6 0h2m4 0h2m2 0h2m18 0h3m9 0h3m7 0h5m2 0h8m1 0h4m4 0h8m8 0h32m2 0h4m1 0h6m3 0h6m5 0h13m2 0h16m6 0h5m1 0h16M21 261.5h13m3 0h2m49 0h56m1 0h2m2 0h9m6 0h72m2 0h2m5 0h3m2 0h13m1 0h9m4 0h41m3 0h8m5 0h4m4 0h2m4 0h3m6 0h5m12 0h3m15 0h16m13 0h1m1 0h4m3 0h2m6 0h4m1 0h34m6 0h8m8 0h10m2 0h14m5 0h22M21 262.5h2m1 0h10m2 0h4m48 0h56m5 0h8m1 0h2m5 0h73m4 0h14m2 0h4m3 0h5m4 0h43m4 0h8m4 0h5m4 0h3m3 0h3m6 0h5m13 0h5m12 0h15m7 0h2m5 0h7m1 0h3m5 0h12m1 0h26m3 0h13m6 0h11m3 0h9m6 0h24M24 263.5h9m27 0h3m9 0h4m3 0h2m5 0h59m4 0h11m4 0h71m3 0h7m1 0h16m3 0h4m5 0h43m5 0h7m7 0h2m4 0h3m14 0h3m13 0h1m2 0h3m12 0h11m9 0h3m10 0h7m4 0h40m3 0h10m7 0h3m1 0h6m4 0h12m10 0h17M23 264.5h6m1 0h4m25 0h3m9 0h5m2 0h3m4 0h61m3 0h17m2 0h66m3 0h7m2 0h16m3 0h3m2 0h1m1 0h31m1 0h13m6 0h7m12 0h1m30 0h1m4 0h3m5 0h4m4 0h9m4 0h1m3 0h5m10 0h9m2 0h22m3 0h22m3 0h2m8 0h10m3 0h6m3 0h5m9 0h16M24 265.5h5m4 0h2m3 0h1m20 0h2m18 0h2m4 0h2m4 0h73m9 0h92m4 0h7m1 0h19m2 0h33m15 0h2m1 0h1m27 0h4m5 0h4m1 0h11m13 0h3m7 0h10m1 0h22m4 0h20m1 0h1m3 0h2m3 0h3m1 0h11m6 0h3m6 0h4m7 0h15M25 266.5h6m3 0h5m20 0h3m18 0h2m1 0h3m5 0h53m1 0h23m7 0h1m3 0h1m4 0h6m3 0h72m2 0h10m2 0h19m1 0h23m3 0h8m6 0h4m2 0h6m16 0h3m7 0h3m5 0h15m6 0h2m17 0h8m3 0h4m6 0h14m2 0h22m6 0h17m6 0h3m6 0h4m2 0h19M25 267.5h1m2 0h3m3 0h6m20 0h2m18 0h8m2 0h77m8 0h4m5 0h2m1 0h23m3 0h64m2 0h39m2 0h1m4 0h8m5 0h5m2 0h2m10 0h7m6 0h4m7 0h3m1 0h13m7 0h4m16 0h3m4 0h7m9 0h32m2 0h5m3 0h10m2 0h5m6 0h1m7 0h4m6 0h3m11 0h1M26 268.5h1m1 0h3m3 0h7m10 0h3m25 0h10m1 0h17m1 0h59m4 0h9m1 0h4m3 0h70m2 0h18m1 0h40m6 0h4m5 0h11m4 0h4m5 0h16m6 0h3m3 0h6m1 0h6m7 0h3m23 0h6m2 0h3m3 0h23m2 0h2m2 0h2m6 0h4m4 0h8m3 0h5m5 0h2m12 0h5M28 269.5h6m4 0h3m13 0h1m10 0h1m14 0h19m2 0h84m2 0h23m1 0h2m2 0h43m2 0h18m2 0h30m3 0h1m2 0h2m8 0h1m6 0h14m2 0h6m8 0h11m5 0h3m11 0h5m3 0h5m29 0h8m2 0h13m2 0h12m3 0h4m4 0h9m3 0h3m2 0h9m3 0h3m12 0h2M30 270.5h4m44 0h22m3 0h32m2 0h8m2 0h63m1 0h1m3 0h3m1 0h32m1 0h5m3 0h12m1 0h17m1 0h19m6 0h2m5 0h1m10 0h4m7 0h2m2 0h7m11 0h7m20 0h1m2 0h1m3 0h4m20 0h2m6 0h10m1 0h11m5 0h2m2 0h8m2 0h18m2 0h3m3 0h10m3 0h2M32 271.5h2m20 0h2m18 0h27m3 0h36m2 0h71m2 0h3m1 0h72m5 0h21m6 0h2m5 0h1m3 0h5m9 0h9m10 0h7m27 0h3m20 0h5m3 0h6m1 0h3m2 0h4m1 0h6m5 0h2m4 0h7m1 0h3m1 0h19m3 0h1m3 0h6m9 0h1M30 272.5h1m1 0h2m42 0h10m1 0h126m1 0h3m2 0h36m1 0h35m4 0h20m14 0h10m1 0h2m6 0h5m2 0h3m9 0h6m5 0h3m3 0h4m6 0h1m4 0h8m19 0h3m4 0h4m5 0h2m1 0h3m2 0h6m4 0h4m2 0h6m2 0h4m2 0h6m1 0h2m2 0h5m11 0h3m8 0h2M30 273.5h4m42 0h137m1 0h13m1 0h4m3 0h19m2 0h36m2 0h21m13 0h3m1 0h7m1 0h3m1 0h2m20 0h6m5 0h11m11 0h5m14 0h4m13 0h1m13 0h7m4 0h11m4 0h3m2 0h10m5 0h2m7 0h2m5 0h3m2 0h3M30 274.5h4m42 0h17m2 0h7m2 0h62m2 0h58m4 0h2m3 0h19m2 0h19m1 0h21m1 0h4m2 0h11m14 0h2m2 0h10m1 0h3m10 0h2m6 0h5m7 0h10m29 0h6m35 0h14m5 0h2m2 0h3m3 0h1m2 0h2m4 0h3m2 0h7m2 0h10M31 275.5h3m1 0h2m5 0h2m31 0h19m5 0h3m2 0h62m2 0h41m1 0h16m2 0h4m5 0h27m6 0h26m2 0h18m6 0h2m5 0h8m3 0h11m5 0h3m5 0h6m8 0h3m1 0h6m17 0h3m2 0h2m3 0h5m30 0h1m6 0h17m2 0h2m8 0h4m1 0h3m1 0h9m4 0h10M31 276.5h7m34 0h77m2 0h5m3 0h6m3 0h63m11 0h22m2 0h25m2 0h12m2 0h9m2 0h7m2 0h10m3 0h11m1 0h7m7 0h5m6 0h11m1 0h2m12 0h11m1 0h4m38 0h16m13 0h4m5 0h7m7 0h1m3 0h1M31 277.5h8m34 0h78m2 0h3m1 0h9m1 0h65m6 0h43m1 0h22m4 0h8m3 0h5m3 0h24m2 0h5m8 0h11m2 0h10m14 0h15m39 0h15m1 0h2m4 0h2m1 0h9m1 0h10M32 278.5h7m34 0h20m2 0h40m2 0h28m4 0h11m1 0h52m4 0h5m1 0h12m1 0h4m1 0h45m3 0h8m6 0h2m4 0h21m3 0h5m3 0h3m2 0h11m2 0h3m4 0h2m6 0h5m4 0h6m2 0h8m1 0h2m36 0h6m3 0h3m2 0h4m1 0h1m2 0h5m2 0h5m3 0h6M32 279.5h1m4 0h2m33 0h92m6 0h62m5 0h5m4 0h8m2 0h4m1 0h15m1 0h22m2 0h6m1 0h8m8 0h2m3 0h7m2 0h3m1 0h5m4 0h8m1 0h10m3 0h4m3 0h1m8 0h2m2 0h7m2 0h18m42 0h2m3 0h1m2 0h2m1 0h2m3 0h6m5 0h3m4 0h7M71 280.5h24m2 0h67m5 0h47m3 0h12m3 0h8m4 0h27m2 0h38m2 0h1m8 0h2m4 0h5m2 0h10m1 0h22m4 0h3m3 0h2m5 0h33m42 0h2m5 0h7m2 0h6m5 0h5m2 0h6M66 281.5h2m2 0h22m1 0h45m3 0h22m4 0h28m1 0h20m5 0h34m4 0h13m3 0h37m3 0h2m6 0h3m4 0h4m2 0h10m2 0h22m5 0h8m3 0h35m42 0h4m2 0h15m4 0h6m2 0h5m2 0h2M69 282.5h15m1 0h7m1 0h46m3 0h15m4 0h2m2 0h53m2 0h26m2 0h5m5 0h40m2 0h11m9 0h14m1 0h9m4 0h17m4 0h3m6 0h44m42 0h5m5 0h1m3 0h22m2 0h3M38 283.5h2m5 0h1m24 0h149m1 0h10m2 0h21m5 0h53m7 0h26m2 0h4m2 0h14m2 0h3m7 0h1m2 0h16m5 0h11m3 0h6m42 0h4m11 0h16m7 0h3M38 284.5h3m30 0h20m1 0h10m3 0h70m2 0h53m1 0h22m8 0h3m2 0h33m1 0h44m1 0h21m4 0h1m4 0h4m7 0h12m2 0h14m3 0h3m46 0h2m3 0h1m6 0h15M39 285.5h2m30 0h30m4 0h27m1 0h26m4 0h37m1 0h16m2 0h49m3 0h31m2 0h8m2 0h40m1 0h11m3 0h3m2 0h3m2 0h2m5 0h34m46 0h1m11 0h1m3 0h3m3 0h5M40 286.5h1m28 0h5m1 0h3m2 0h2m2 0h6m2 0h10m1 0h36m2 0h2m2 0h13m6 0h48m1 0h3m2 0h84m3 0h7m1 0h6m4 0h1m2 0h14m2 0h4m2 0h11m2 0h4m3 0h9m2 0h3m4 0h35m61 0h3m3 0h3m2 0h1M67 287.5h10m3 0h10m2 0h15m1 0h31m7 0h15m5 0h8m2 0h40m1 0h50m1 0h8m1 0h42m3 0h35m5 0h2m1 0h8m8 0h1m7 0h34m63 0h4M43 288.5h1m22 0h56m1 0h20m2 0h18m3 0h7m4 0h39m2 0h48m3 0h80m4 0h5m3 0h10m18 0h33m63 0h1m3 0h1M66 289.5h30m1 0h25m2 0h49m2 0h42m2 0h22m2 0h24m1 0h71m1 0h2m5 0h2m5 0h4m4 0h9m6 0h2m4 0h1m5 0h33m63 0h1M68 290.5h173m2 0h67m3 0h2m2 0h22m2 0h1m5 0h3m12 0h5m1 0h13m2 0h1m5 0h22m1 0h9M65 291.5h5m1 0h152m2 0h17m1 0h20m4 0h43m3 0h2m1 0h27m3 0h5m4 0h2m5 0h4m3 0h16m5 0h21m2 0h7M65 292.5h4m2 0h147m2 0h1m3 0h102m2 0h10m2 0h3m4 0h6m3 0h2m6 0h11m7 0h4m3 0h1m3 0h18m2 0h6M51 293.5h2m12 0h3m3 0h11m1 0h21m2 0h70m1 0h43m6 0h79m2 0h19m2 0h10m2 0h2m5 0h7m2 0h2m3 0h14m11 0h5m2 0h18m2 0h5M65 294.5h3m2 0h79m1 0h24m3 0h11m1 0h19m2 0h5m5 0h26m3 0h9m1 0h19m1 0h20m2 0h2m6 0h1m2 0h14m1 0h15m7 0h28m4 0h2m1 0h14m1 0h18M60 295.5h2m4 0h121m3 0h18m5 0h5m1 0h45m4 0h2m2 0h6m1 0h25m8 0h30m2 0h2m3 0h28m3 0h7m2 0h27M65 296.5h115m2 0h4m3 0h2m4 0h14m2 0h48m13 0h34m3 0h32m3 0h3m1 0h5m3 0h16m2 0h11m5 0h4M64 297.5h116m3 0h3m2 0h3m4 0h66m13 0h56m3 0h8m3 0h9m2 0h27M65 298.5h6m1 0h26m3 0h6m1 0h74m1 0h7m3 0h24m2 0h8m2 0h32m1 0h5m8 0h23m2 0h14m2 0h10m9 0h4m13 0h2m1 0h7m2 0h2m6 0h5m1 0h7M65 299.5h3m5 0h25m4 0h10m2 0h70m1 0h84m5 0h23m3 0h15m2 0h8m3 0h2m50 0h1M65 300.5h5m4 0h24m3 0h11m1 0h116m1 0h68m1 0h26M65 301.5h5m4 0h24m4 0h220m1 0h1M65 302.5h6m2 0h157m2 0h89M55 303.5h3m4 0h3m4 0h120m3 0h64m3 0h60M48 304.5h4m2 0h28m3 0h10m2 0h92m3 0h5m1 0h24m4 0h32m1 0h4m3 0h53M49 305.5h7m2 0h12m2 0h10m5 0h102m2 0h5m3 0h9m2 0h13m4 0h35m3 0h12m1 0h41M55 306.5h25m7 0h22m4 0h78m3 0h13m5 0h11m4 0h23m1 0h5m1 0h5m2 0h5m1 0h6m2 0h13m1 0h9m3 0h14M61 307.5h1m13 0h5m3 0h1m6 0h20m3 0h78m2 0h14m6 0h48m2 0h5m6 0h15m2 0h9m3 0h15M76 308.5h9m5 0h29m1 0h67m5 0h15m2 0h1m2 0h39m1 0h5m3 0h8m6 0h14m3 0h9m2 0h16M78 309.5h10m2 0h3m5 0h35m4 0h70m5 0h44m4 0h6m7 0h18m2 0h1m3 0h15m2 0h4M79 310.5h11m8 0h3m2 0h91m1 0h11m5 0h47m1 0h32m6 0h15m2 0h3M84 311.5h5m18 0h92m1 0h6m4 0h66m3 0h15m3 0h15M107 312.5h92m1 0h53m3 0h12m3 0h5m4 0h14m4 0h16M107 313.5h87m3 0h2m3 0h51m5 0h9m4 0h4m5 0h12m7 0h14M108 314.5h86m9 0h53m3 0h16m4 0h16m6 0h12M109 315.5h87m6 0h55m2 0h3m1 0h9m6 0h20m2 0h13M97 316.5h3m9 0h89m2 0h73m5 0h19m2 0h13M97 317.5h3m12 0h143m2 0h17m5 0h18m1 0h14M98 318.5h3m11 0h61m2 0h79m2 0h10m1 0h3m4 0h3m2 0h33M99 319.5h3m12 0h141m1 0h14m8 0h20m2 0h8m2 0h2M100 320.5h2m13 0h160m5 0h27m3 0h2M101 321.5h2m15 0h5m2 0h96m3 0h4m1 0h47m3 0h33M102 322.5h4m12 0h4m3 0h6m2 0h85m3 0h28m4 0h58M104 323.5h3m12 0h2m4 0h7m3 0h117m3 0h6m1 0h39m2 0h1m4 0h3M105 324.5h4m10 0h21m2 0h98m1 0h11m2 0h6m2 0h39m1 0h2m4 0h3M120 325.5h4m3 0h1m2 0h10m3 0h97m2 0h3m7 0h7m1 0h18m1 0h22m1 0h9M109 326.5h4m13 0h29m1 0h89m2 0h31m1 0h18m9 0h6M108 327.5h6m13 0h93m3 0h74m4 0h4m2 0h6M110 328.5h3m14 0h93m2 0h20m2 0h31m1 0h38M111 329.5h2m14 0h31m2 0h82m1 0h72M120 330.5h2m5 0h141m1 0h47M120 331.5h1m7 0h72m2 0h74m3 0h17m2 0h8m2 0h9M132 332.5h70m1 0h73m2 0h17m3 0h2m5 0h7m2 0h3M120 333.5h2m10 0h84m2 0h84m2 0h7m3 0h5M118 334.5h5m9 0h84m2 0h92m3 0h7M120 335.5h3m1 0h6m2 0h90m1 0h49m7 0h31m2 0h5m2 0h2M121 336.5h49m2 0h21m2 0h27m2 0h40m1 0h5m2 0h22m1 0h21m3 0h2M123 337.5h70m2 0h69m1 0h5m1 0h23m1 0h12m3 0h1m8 0h2M124 338.5h79m3 0h90m1 0h11m11 0h2M132 339.5h93m1 0h70m1 0h7M134 340.5h103m3 0h64M138 341.5h139m3 0h20M138 342.5h27m1 0h113m1 0h7m5 0h8M140 343.5h120m2 0h23m8 0h2m2 0h3M141 344.5h119m3 0h21m8 0h1M143 345.5h31m2 0h82m5 0h6m20 0h4M145 346.5h29m2 0h36m1 0h11m1 0h32m3 0h3m29 0h1M147 347.5h112M151 348.5h32m26 0h29m2 0h15M155 349.5h24m34 0h25m3 0h10M175 350.5h1m41 0h21m2 0h1m1 0h1M225 351.5h11"/>
<rect x="122" y="241" width="9" height="6" fill="#3c3cff"/><rect x="115" y="257" width="9" height="5" fill="#3c3cff"/><rect x="169" y="245" width="14" height="6" fill="#3c3cff"/><rect x="168" y="263" width="9" height="4" fill="#3c3cff"/><rect x="103" y="237" width="4" height="3" fill="#3c3cff"/><rect x="258" y="284" width="6" height="6" fill="#3c3cff"/><rect x="229" y="290" width="5" height="4" fill="#3c3cff"/><rect x="233" y="297" width="6" height="4" fill="#3c3cff"/><rect x="230" y="303" width="4" height="3" fill="#3c3cff"/><rect x="266" y="336" width="9" height="3" fill="#3c3cff"/><rect x="254" y="275" width="7" height="4" fill="#3c3cff"/><rect x="735" y="208" width="11" height="6" fill="#3c3cff"/><rect x="741" y="220" width="3" height="3" fill="#3c3cff"/><rect x="814" y="192" width="4" height="5" fill="#3c3cff"/><rect x="815" y="230" width="4" height="3" fill="#3c3cff"/><rect x="818" y="232" width="5" height="3" fill="#3c3cff"/><rect x="196" y="232" width="3" height="2" fill="#3c3cff"/><rect x="214" y="262" width="3" height="2" fill="#3c3cff"/><rect x="186" y="292" width="3" height="3" fill="#3c3cff"/><rect x="300" y="147" width="3" height="2" fill="#3c3cff"/>
</g>
<g fill="none" stroke="#000" stroke-width="1.15" shape-rendering="auto" stroke-linejoin="round">
<polyline points="26,224 40,224 50,224 65,222.5 75,220 86,209 91,211 90.5,215.5 79,224 86,230 82.5,235 96,241 100,250 106,254 105,261 111,265 110,272.5 115.5,280 104,287 95,284 92.5,287.5 85,292.5 82.5,296 85,298 75,305"/>
<polyline points="96,183 90,189 96,191 107.5,195 108,202.5 116,212 130,210 130.5,207 145,205.5 162.5,210 166,211 185,214.5"/>
<polyline points="185,214.5 190.5,207 187.5,200 197.5,201.5 212.5,209 225,215 230,224 237.5,232.5 250,230 262.5,226 282.5,216 297.5,210 315,193.5"/>
<polyline points="185,214.5 170,221 164,230 181,237.5 172.5,247.5 166,257.5 162.5,267.5 165,277.5 155,283 160,286 152,287 160,291 162.5,297.5 170,302.5 170,321 156,330 146,339 145,345"/>
<polyline points="246,106 255,117.5 262.5,126 272.5,132.5 277.5,140 279,150 265,159 260,162.5 270,164 276,160 295,163 294,175 302.5,182.5 315,193.5"/>
<polyline points="315,193.5 322.5,191 340,192.5 342.5,185 340,179 345,174 375,170 381,174 390,172.5 400,167.5 412.5,165.5 430,167.5 452.5,171 467.5,170 499,170 515,174 522.5,172 537.5,175.5"/>
<polyline points="262.5,226 266,231 271,236 271,244 275,247.5 274,254 270,257.5 290,254 295,247.5 301,244 310,250 317.5,259 316,266 312.5,270 315,275 311,280 320,282.5 330,282.5 342.5,279.5 351,277 352.5,286 345,292.5 344.5,299"/>
<polyline points="476,125.5 481,135 501,141 500,152.5 492.5,155.5 499,160 505,167.5 499,170"/>
<polyline points="537.5,175.5 544,171 542.5,165 550,160 562.5,157.5 569,159 574,155 577.5,159 590,162.5 596,164 605,160 611,161 614,157.5 625,160 640,162.5 652.5,169 667.5,171 687.5,175 686,180 692.5,182.5 705,179 707.5,174 715,172.5 722.5,174 727.5,182.5 737.5,187.5 755,189.5 765,187.5 771,185 770,172.5 775,170 787.5,174 797.5,179 822.5,179 825,171 834,166 840,169 842.5,174 862.5,177.5"/>
<polyline points="537.5,175.5 527.5,185 524,196 532.5,203 540,208 541,215 549,219 545,227.5 541,232.5 547.5,239 557.5,239 567.5,236 574,231"/>
</g>
<polygon points="180,150 172.5,155 171,162.5 157.5,166 142.5,174.5 122.5,182 110,181.5 105,178 97,181 90,182.5 82.5,180 64,175 51,181 37.5,196 29,210 26,222.5 19,234 14,239 11,250 19,255 22,262.5 30,271.5 34,281 46,289 50,295 49,304 61,306 74,305 80,310 91,311 107.5,325 124,337.5 132.5,338 147.5,346 155,348 175,349 185,346 205,346 217.5,349 225,350 235,350 250,348 262.5,345 275,343.75 292.5,345 301,341 304,337.5 322,337.5 321,334.5 315,331 309,325 311,312.5 316,309 317,302.5 324,300 332.5,297 342.5,299.5 355,298 365,297 377.5,299.5 387.5,296 400,294.5 415,294 420,289 424,279 430,275 440,271 449,272.5 452.5,276 462.5,278 466,284.5 477.5,285 484,289 497.5,284 507.5,281 509,276 517.5,274 520,267.5 526,269.5 535,265 545,266 552.5,259 559,251 561,244 567.5,239 574,231 576,226 595,224 602.5,221 615,220 625,219 632.5,224 645,229 655,227 664,229 666,232 674,230 679,226 695,227 700,222.5 715,219.5 725,222.5 735,229 745,231 748,240 754,247.5 762.5,255 772.5,255 776,257 780,254 790,251 805,249 815,250 817.5,245 825,246 828,237.5 827.5,227.5 830,219 840,210 852.5,202.5 859,199 858,192.5 862.5,186 862.5,177 869,167.5 872.5,160 880,155 887.5,152.5 889,141 875,140 867.5,139 861,132.5 847.5,133 839,127.5 827.5,125.5 817.5,121 810,120 807.5,112.5 799,102.5 785,99 776,95 770,99 761,91 747.5,86 735,86 720,91 707.5,87.5 691,84.5 684,89 677,92 670,89 659,91 664,97.5 652.5,102.5 640,109.5 634,101 625,104.5 617.5,100 606,90 591,92 585,97 572.5,94 565,91 559,94 546,94.5 544.5,101 524,104 515,110 509,127.5 492.5,120 477.5,122.5 475,125.5 461,124.5 460,120 467.5,113 465,110 464.5,93 455,95 441,92.5 440,86 432.5,81 425,69 419,64 410,62.5 400,66 397.5,71 384,72.5 377.5,77.5 375,86 370,91 355,92 345,95 340,92.5 339,84 335,75 316,75.5 305,79 280,77.5 272.5,80 270,87.5 252.5,96 251,102.5 246,106 217.5,111 211,116 210,125 205,136 201,146 192.5,150" fill="none" stroke="#000" stroke-width="2.2" stroke-linejoin="round" shape-rendering="auto"/>
</svg>
<div id="frame"></div>
<h1>Slovakia</h1>
<div class="info" style="top:398px;font-weight:bold;font-size:18.67px">Mean Vegetation Health Index (VHI)</div>
<div class="info" style="top:427.5px;letter-spacing:-0.07px">from    : start of SEASON 2</div>
<div class="info" style="top:457.5px">to      : dekad 3 July 2025</div>
<div class="info" style="top:487.5px;letter-spacing:-0.15px">NON-CROPLAND PIXELS EXCLUDED</div>
<div class="info" style="top:517.5px">METOP-AVHRR</div>
<div class="info" style="top:547.6px">WGS84, Geographic Lat/Lon</div>
<div class="lt">Mean VHI</div>
<div class="sw" style="top:413px;background:#960000"></div><div class="ll" style="top:413px">&lt; 0.15</div>
<div class="sw" style="top:430px;background:#ff0000"></div><div class="ll" style="top:430px">0.15 - 0.25</div>
<div class="sw" style="top:447px;background:#ff8000"></div><div class="ll" style="top:447px">0.25 - 0.35</div>
<div class="sw" style="top:464px;background:#ffc864"></div><div class="ll" style="top:464px">0.35 - 0.45</div>
<div class="sw" style="top:481px;background:#ffff00"></div><div class="ll" style="top:481px">0.45 - 0.55</div>
<div class="sw" style="top:498px;background:#64ff00"></div><div class="ll" style="top:498px">0.55 - 0.65</div>
<div class="sw" style="top:515px;background:#32c800"></div><div class="ll" style="top:515px">0.65 - 0.75</div>
<div class="sw" style="top:532px;background:#009600"></div><div class="ll" style="top:532px">0.75 - 0.85</div>
<div class="sw" style="top:549px;background:#286e00"></div><div class="ll" style="top:549px">&gt;= 0.85</div>
<div class="sw" style="top:577px;background:#3c3cff"></div><div class="ll" style="top:577px;letter-spacing:0.16px">off season</div>
<div class="sw" style="top:594px;background:#323232"></div><div class="ll" style="top:594px;letter-spacing:0.16px">no data</div>
<div class="sw" style="top:611px;background:#00c8c8"></div><div class="ll" style="top:611px;letter-spacing:0.16px">no season 2</div>
<div class="sw" style="top:628px;background:#c8c8c8"></div><div class="ll" style="top:628px;letter-spacing:0.16px">no cropland</div>

<svg style="position:absolute;left:671px;top:471px" width="60" height="60" viewBox="0 0 60 60">
<defs><path id="arc" d="M 7.2 30.3 A 23.2 23.2 0 0 0 53.6 30.3"/></defs>
<circle cx="30.4" cy="30.3" r="26.7" fill="#fff" stroke="#1a1a1a" stroke-width="3.3"/>
<g fill="none" stroke-linejoin="miter" stroke-linecap="butt">
<polyline points="15.2,9.5 29.9,38.5 44.6,9.5" stroke="#1a1a1a" stroke-width="5"/>
<polyline points="15.2,9.5 29.9,38.5 44.6,9.5" stroke="#fff" stroke-width="1.3"/>
<polyline points="21.5,13 29.9,30.5 38.3,13" stroke="#1a1a1a" stroke-width="1.2" opacity="0"/>
</g>
<ellipse cx="29.9" cy="22.6" rx="2.3" ry="3.6" fill="#1a1a1a"/>
<path d="M26.2 27 L29.9 34.5 L33.6 27 Q29.9 31.5 26.2 27Z" fill="#1a1a1a"/>
<ellipse cx="29.9" cy="40.4" rx="7" ry="5" fill="#1a1a1a"/>
<path d="M24.2 37.5 L29.9 42.5 L35.6 37.5" fill="none" stroke="#fff" stroke-width="0.9"/>
<rect x="29.1" y="42" width="1.7" height="15" fill="#1a1a1a"/>
<g font-family="Liberation Sans, Arial, sans-serif" font-weight="bold" font-size="14" fill="#1a1a1a" stroke="#1a1a1a" stroke-width="0.5" text-anchor="middle">
<text transform="translate(30.4 18.5) scale(0.88 1)">A</text>
<text transform="translate(11.9 31.5) scale(0.85 1)">F</text>
<text transform="translate(48.3 31.5) scale(0.85 1)">O</text>
</g>
<g font-family="Liberation Sans, Arial, sans-serif" font-weight="bold" font-size="6.3" fill="#1a1a1a" stroke="#1a1a1a" stroke-width="0.25" text-anchor="middle" letter-spacing="0.5">
<text><textPath href="#arc" startOffset="28.5%">FIAT</textPath></text>
<text><textPath href="#arc" startOffset="73%">PANIS</textPath></text>
</g>
</svg>
<div class="fao">Food and Agriculture<br>Organization of the<br>United Nations</div>
<div class="rule"></div>
<div class="giews">Global Information and Early</div><div class="giews" style="top:573.8px;transform:scaleX(0.957)">Warning System – GIEWS</div>
<div class="disc">Disclaimer: The boundaries and names shown and the designations used on this map do not imply the expression of any opinion whatsoever on the part of FAO<br><span style="letter-spacing:-0.025px">concerning the legal status of any country, territory, area or of its authorities, or concerning the delimitation of its frontiers and boundaries.</span></div>
</body></html>
